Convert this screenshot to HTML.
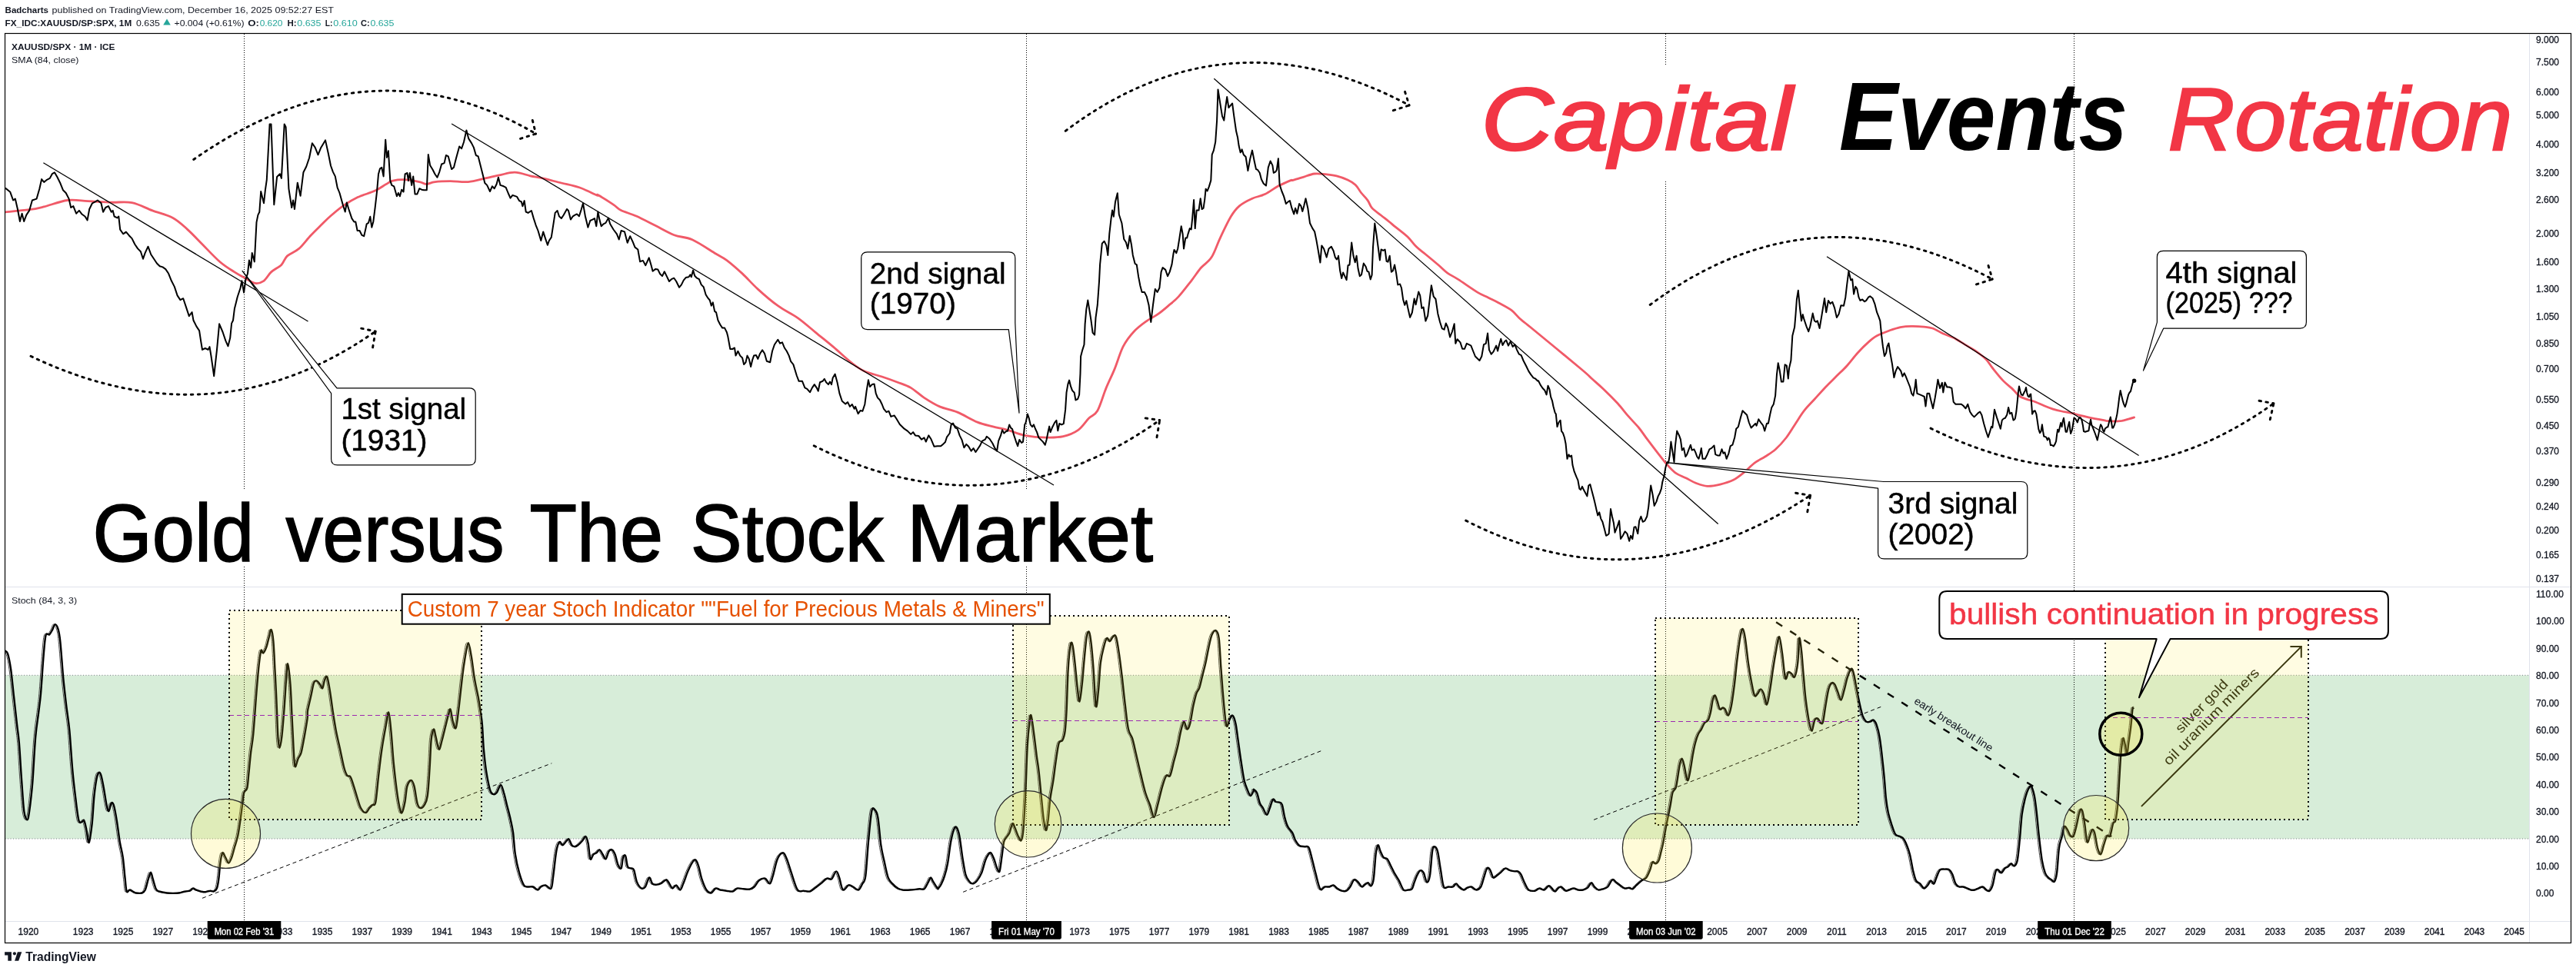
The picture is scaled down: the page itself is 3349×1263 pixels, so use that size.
<!DOCTYPE html><html><head><meta charset="utf-8"><style>html,body{margin:0;padding:0;background:#fff;}svg{display:block;font-family:"Liberation Sans", sans-serif;will-change:transform;}</style></head><body>
<svg width="3349" height="1263" viewBox="0 0 3349 1263">
<rect x="0" y="0" width="3349" height="1263" fill="#fff"/>
<defs><clipPath id="cp"><rect x="7" y="44" width="3281" height="719"/></clipPath><clipPath id="cs"><rect x="7" y="764" width="3281" height="434"/></clipPath></defs>
<text x="6.6" y="16.8" font-size="11.6" fill="#131722" font-weight="bold" font-style="normal" text-anchor="start" textLength="56.3" lengthAdjust="spacingAndGlyphs" >Badcharts</text>
<text x="67.5" y="16.8" font-size="11.6" fill="#131722" font-weight="normal" font-style="normal" text-anchor="start" textLength="366.5" lengthAdjust="spacingAndGlyphs" >published on TradingView.com, December 16, 2025 09:52:27 EST</text>
<text x="6.6" y="33.6" font-size="11.6" fill="#131722" font-weight="bold" font-style="normal" text-anchor="start" textLength="164.6" lengthAdjust="spacingAndGlyphs" >FX_IDC:XAUUSD/SP:SPX, 1M</text>
<text x="177.0" y="33.6" font-size="11.6" fill="#131722" font-weight="normal" font-style="normal" text-anchor="start" textLength="30.9" lengthAdjust="spacingAndGlyphs" >0.635</text>
<path d="M212.2,32.6 L217,24.6 L221.8,32.6 Z" fill="#26a69a"/>
<text x="226.5" y="33.6" font-size="11.6" fill="#131722" font-weight="normal" font-style="normal" text-anchor="start" textLength="91.0" lengthAdjust="spacingAndGlyphs" >+0.004 (+0.61%)</text>
<text x="322.2" y="33.6" font-size="11.6" fill="#131722" font-weight="bold" font-style="normal" text-anchor="start" textLength="14.7" lengthAdjust="spacingAndGlyphs" >O:</text>
<text x="337.7" y="33.6" font-size="11.6" fill="#26a69a" font-weight="normal" font-style="normal" text-anchor="start" textLength="29.8" lengthAdjust="spacingAndGlyphs" >0.620</text>
<text x="373.4" y="33.6" font-size="11.6" fill="#131722" font-weight="bold" font-style="normal" text-anchor="start" textLength="12.1" lengthAdjust="spacingAndGlyphs" >H:</text>
<text x="386.3" y="33.6" font-size="11.6" fill="#26a69a" font-weight="normal" font-style="normal" text-anchor="start" textLength="31.1" lengthAdjust="spacingAndGlyphs" >0.635</text>
<text x="422.7" y="33.6" font-size="11.6" fill="#131722" font-weight="bold" font-style="normal" text-anchor="start" textLength="9.7" lengthAdjust="spacingAndGlyphs" >L:</text>
<text x="433.2" y="33.6" font-size="11.6" fill="#26a69a" font-weight="normal" font-style="normal" text-anchor="start" textLength="31.6" lengthAdjust="spacingAndGlyphs" >0.610</text>
<text x="468.9" y="33.6" font-size="11.6" fill="#131722" font-weight="bold" font-style="normal" text-anchor="start" textLength="11.7" lengthAdjust="spacingAndGlyphs" >C:</text>
<text x="481.4" y="33.6" font-size="11.6" fill="#26a69a" font-weight="normal" font-style="normal" text-anchor="start" textLength="31.0" lengthAdjust="spacingAndGlyphs" >0.635</text>
<rect x="6.5" y="878.3" width="3282.0" height="212.70000000000005" fill="#d7edd9"/>
<line x1="6.5" y1="878.3" x2="3288.5" y2="878.3" stroke="#787b86" stroke-width="1" stroke-dasharray="1 2.5"/>
<line x1="6.5" y1="1091.0" x2="3288.5" y2="1091.0" stroke="#787b86" stroke-width="1" stroke-dasharray="1 2.5"/>
<line x1="3288.5" y1="43.5" x2="3288.5" y2="1226.5" stroke="#e0e3eb" stroke-width="1"/>
<line x1="6.5" y1="763.5" x2="3342.5" y2="763.5" stroke="#e0e3eb" stroke-width="1.2"/>
<line x1="6.5" y1="1198.5" x2="3342.5" y2="1198.5" stroke="#e0e3eb" stroke-width="1.2"/>
<line x1="317.5" y1="44" x2="317.5" y2="1198" stroke="#000" stroke-width="1" stroke-dasharray="1 2"/>
<line x1="1334.5" y1="44" x2="1334.5" y2="1198" stroke="#000" stroke-width="1" stroke-dasharray="1 2"/>
<line x1="2165.5" y1="44" x2="2165.5" y2="1198" stroke="#000" stroke-width="1" stroke-dasharray="1 2"/>
<line x1="2696.5" y1="44" x2="2696.5" y2="1198" stroke="#000" stroke-width="1" stroke-dasharray="1 2"/>
<g clip-path="url(#cs)">
<path d="M3.8,846.2 C4.5,846.9 6.5,846.2 7.8,850.2 C9.2,854.3 10.5,861.0 11.9,870.3 C13.2,879.7 14.5,894.4 15.9,906.5 C17.2,918.5 18.8,932.6 19.9,942.6 C21.0,952.7 21.7,954.7 22.7,966.7 C23.7,978.8 24.8,1000.2 25.9,1014.9 C27.0,1029.6 27.9,1046.5 29.1,1055.1 C30.3,1063.6 32.0,1066.3 33.1,1066.3 C34.3,1066.3 34.8,1063.0 36.0,1055.1 C37.1,1047.2 38.6,1035.0 40.0,1018.9 C41.3,1002.9 42.6,974.1 44.0,958.7 C45.3,943.3 46.9,935.9 48.0,926.5 C49.1,917.2 49.8,913.8 50.8,902.4 C51.8,891.1 53.0,870.9 54.0,858.3 C55.1,845.7 55.9,832.4 57.2,826.9 C58.6,821.5 60.6,826.7 62.1,825.3 C63.5,824.0 64.9,821.1 66.1,818.9 C67.3,816.7 68.1,812.2 69.3,812.1 C70.5,812.0 72.2,814.4 73.3,818.1 C74.4,821.8 75.0,823.5 76.1,834.2 C77.3,844.9 78.8,868.3 80.1,882.4 C81.5,896.4 82.8,907.1 84.1,918.5 C85.5,929.9 86.8,936.6 88.2,950.6 C89.5,964.7 90.8,988.1 92.2,1002.9 C93.5,1017.6 94.9,1028.3 96.2,1039.0 C97.5,1049.7 98.9,1062.1 100.2,1067.1 C101.5,1072.1 103.1,1069.1 104.2,1069.1 C105.4,1069.1 106.0,1065.4 107.0,1067.1 C108.0,1068.8 109.2,1074.3 110.2,1079.2 C111.3,1084.0 112.3,1097.4 113.5,1096.0 C114.7,1094.7 116.3,1081.3 117.5,1071.1 C118.6,1061.0 119.2,1045.4 120.3,1035.0 C121.4,1024.6 123.0,1013.7 124.3,1008.9 C125.6,1004.1 127.0,1003.7 128.3,1006.1 C129.7,1008.4 131.0,1016.1 132.3,1022.9 C133.7,1029.8 135.2,1041.7 136.4,1047.0 C137.5,1052.4 138.2,1055.4 139.2,1055.1 C140.2,1054.7 141.3,1046.4 142.4,1045.0 C143.4,1043.7 144.4,1043.3 145.6,1047.0 C146.8,1050.7 148.3,1059.1 149.6,1067.1 C150.9,1075.1 152.3,1087.2 153.6,1095.2 C155.0,1103.3 156.5,1107.3 157.6,1115.3 C158.8,1123.3 159.6,1136.1 160.5,1143.4 C161.3,1150.8 161.5,1157.1 162.5,1159.5 C163.5,1161.8 165.1,1157.5 166.5,1157.5 C167.8,1157.5 169.2,1158.8 170.5,1159.5 C171.8,1160.1 172.5,1161.2 174.5,1161.5 C176.5,1161.8 180.5,1162.2 182.5,1161.5 C184.5,1160.8 185.2,1160.5 186.6,1157.5 C187.9,1154.5 189.4,1147.2 190.6,1143.4 C191.8,1139.6 192.8,1134.6 193.8,1134.6 C194.8,1134.6 195.5,1139.8 196.6,1143.4 C197.7,1147.0 199.3,1153.6 200.6,1156.3 C201.9,1158.9 202.3,1158.6 204.6,1159.5 C207.0,1160.3 211.7,1161.1 214.7,1161.5 C217.7,1161.9 220.0,1161.9 222.7,1161.9 C225.4,1161.9 228.1,1161.9 230.7,1161.5 C233.4,1161.1 236.4,1159.9 238.8,1159.5 C241.1,1159.0 243.1,1159.3 244.8,1158.7 C246.5,1158.0 247.5,1155.7 248.8,1155.5 C250.1,1155.3 251.1,1156.8 252.8,1157.5 C254.5,1158.1 256.8,1159.0 258.8,1159.5 C260.9,1159.9 262.9,1160.4 264.9,1160.3 C266.9,1160.1 269.1,1158.8 270.9,1158.7 C272.7,1158.5 274.2,1160.0 275.7,1159.5 C277.2,1158.9 278.7,1158.1 279.7,1155.5 C280.8,1152.8 281.4,1148.8 282.1,1143.4 C282.9,1138.1 283.3,1129.0 284.1,1123.3 C284.9,1117.6 285.8,1110.6 287.0,1109.3 C288.1,1107.9 289.6,1113.1 291.0,1115.3 C292.3,1117.5 293.7,1122.5 295.0,1122.5 C296.3,1122.5 297.7,1118.8 299.0,1115.3 C300.3,1111.8 301.7,1105.9 303.0,1101.2 C304.4,1096.6 305.8,1092.9 307.0,1087.2 C308.2,1081.5 309.2,1074.1 310.2,1067.1 C311.3,1060.1 312.3,1051.0 313.1,1045.0 C313.9,1039.0 314.1,1034.3 315.1,1031.0 C316.1,1027.6 318.1,1029.0 319.1,1024.9 C320.1,1020.9 320.3,1014.6 321.1,1006.9 C321.9,999.2 322.9,987.5 323.9,978.8 C324.9,970.1 325.9,967.4 327.1,954.7 C328.3,941.9 329.9,917.2 331.1,902.4 C332.3,887.7 333.3,875.7 334.3,866.3 C335.4,856.9 336.2,849.0 337.2,846.2 C338.1,843.4 338.8,850.1 340.0,849.4 C341.1,848.8 342.8,845.4 344.0,842.2 C345.2,839.0 346.1,834.0 347.2,830.2 C348.3,826.3 349.4,818.2 350.4,818.9 C351.4,819.6 352.4,825.6 353.2,834.2 C354.0,842.7 354.6,857.6 355.2,870.3 C355.9,883.0 356.6,895.8 357.2,910.5 C357.9,925.2 358.6,948.3 359.2,958.7 C359.9,969.0 360.5,972.7 361.3,972.7 C362.1,972.7 363.1,967.0 364.1,958.7 C365.1,950.3 366.2,936.6 367.3,922.5 C368.3,908.5 369.7,884.0 370.5,874.3 C371.3,864.6 371.3,861.6 372.1,864.3 C372.9,867.0 374.4,879.4 375.3,890.4 C376.2,901.4 376.6,917.2 377.3,930.6 C378.0,943.9 378.7,959.7 379.3,970.7 C380.0,981.8 380.3,994.1 381.3,996.8 C382.3,999.5 384.0,989.8 385.4,986.8 C386.7,983.8 388.0,983.4 389.4,978.8 C390.7,974.1 392.0,966.0 393.4,958.7 C394.7,951.3 396.7,940.3 397.4,934.6 C398.1,928.9 397.1,929.2 397.8,924.5 C398.5,919.9 400.5,912.5 401.8,906.5 C403.2,900.4 404.5,891.9 405.8,888.4 C407.2,884.9 408.5,885.2 409.8,885.6 C411.2,885.9 412.7,888.8 413.9,890.4 C415.1,892.0 416.1,896.2 417.1,895.2 C418.1,894.2 418.9,886.9 419.9,884.4 C420.9,881.9 422.0,878.0 423.1,880.4 C424.2,882.7 425.4,890.7 426.7,898.4 C428.0,906.1 429.4,917.8 430.7,926.5 C432.1,935.2 433.2,942.6 434.7,950.6 C436.3,958.7 438.2,966.7 440.0,974.7 C441.7,982.8 443.7,993.1 445.2,998.8 C446.7,1004.5 447.9,1007.0 449.2,1008.9 C450.5,1010.7 451.9,1008.1 453.2,1010.1 C454.6,1012.1 455.8,1016.4 457.2,1020.9 C458.7,1025.4 460.5,1032.0 462.1,1037.0 C463.7,1042.0 465.0,1047.7 466.9,1051.0 C468.8,1054.4 471.4,1057.1 473.3,1057.1 C475.2,1057.1 476.6,1052.7 478.1,1051.0 C479.6,1049.4 480.8,1048.4 482.1,1047.0 C483.5,1045.7 484.8,1049.7 486.2,1043.0 C487.5,1036.3 488.8,1018.2 490.2,1006.9 C491.5,995.5 492.7,984.8 494.2,974.7 C495.7,964.7 497.5,954.7 499.0,946.6 C500.5,938.6 501.8,925.9 503.0,926.5 C504.2,927.2 505.2,939.9 506.2,950.6 C507.3,961.4 508.2,978.1 509.4,990.8 C510.7,1003.5 512.1,1016.9 513.5,1026.9 C514.8,1037.0 516.3,1046.0 517.5,1051.0 C518.6,1056.1 519.2,1058.4 520.3,1057.1 C521.4,1055.7 523.2,1048.7 524.3,1043.0 C525.4,1037.3 525.8,1027.6 527.1,1022.9 C528.5,1018.2 530.8,1014.9 532.3,1014.9 C533.9,1014.9 535.0,1017.9 536.4,1022.9 C537.7,1028.0 539.0,1040.3 540.4,1045.0 C541.7,1049.7 542.8,1050.7 544.4,1051.0 C545.9,1051.4 548.1,1049.7 549.6,1047.0 C551.1,1044.4 552.5,1043.0 553.6,1035.0 C554.8,1026.9 555.6,1010.9 556.4,998.8 C557.2,986.8 557.6,971.1 558.4,962.7 C559.3,954.3 560.7,949.3 561.7,948.6 C562.7,948.0 563.3,954.3 564.5,958.7 C565.6,963.0 567.1,974.1 568.5,974.7 C569.8,975.4 571.2,967.4 572.5,962.7 C573.8,958.0 575.2,952.0 576.5,946.6 C577.9,941.3 579.4,934.6 580.5,930.6 C581.7,926.5 582.3,921.2 583.3,922.5 C584.3,923.9 585.4,934.6 586.6,938.6 C587.8,942.6 589.2,950.0 590.6,946.6 C591.9,943.3 593.2,929.2 594.6,918.5 C595.9,907.8 597.3,893.1 598.6,882.4 C599.9,871.7 601.3,862.0 602.6,854.3 C604.0,846.6 605.3,836.2 606.6,836.2 C608.0,836.2 609.3,846.6 610.7,854.3 C612.0,862.0 613.2,873.7 614.7,882.4 C616.1,891.1 618.1,899.1 619.5,906.5 C620.8,913.8 621.8,920.5 622.7,926.5 C623.6,932.6 624.0,934.6 624.7,942.6 C625.4,950.6 625.8,964.7 626.7,974.7 C627.6,984.8 628.6,994.1 629.9,1002.9 C631.3,1011.6 633.3,1021.9 634.7,1026.9 C636.2,1032.0 637.3,1032.3 638.8,1033.0 C640.2,1033.6 641.9,1033.0 643.6,1031.0 C645.3,1029.0 647.3,1020.9 648.8,1020.9 C650.3,1020.9 651.5,1026.6 652.8,1031.0 C654.2,1035.3 655.5,1041.7 656.8,1047.0 C658.2,1052.4 659.5,1057.1 660.9,1063.1 C662.2,1069.1 663.7,1075.1 664.9,1083.2 C666.0,1091.2 666.3,1102.6 667.7,1111.3 C669.0,1120.0 671.0,1128.7 672.9,1135.4 C674.8,1142.1 676.9,1148.4 678.9,1151.4 C680.9,1154.5 682.9,1153.1 684.9,1153.5 C687.0,1153.8 689.0,1152.8 691.0,1153.5 C693.0,1154.1 695.3,1157.5 697.0,1157.5 C698.7,1157.5 699.3,1154.5 701.0,1153.5 C702.7,1152.4 704.8,1151.1 707.0,1151.4 C709.2,1151.8 712.6,1157.5 714.3,1155.5 C715.9,1153.5 715.9,1147.4 717.1,1139.4 C718.2,1131.4 719.8,1114.6 721.1,1107.3 C722.4,1099.9 723.8,1096.6 725.1,1095.2 C726.4,1093.9 727.8,1099.2 729.1,1099.2 C730.5,1099.2 731.8,1096.6 733.1,1095.2 C734.5,1093.9 735.8,1090.5 737.2,1091.2 C738.5,1091.9 739.8,1097.6 741.2,1099.2 C742.5,1100.9 743.9,1101.2 745.2,1101.2 C746.5,1101.2 747.5,1100.6 749.2,1099.2 C750.9,1097.9 753.6,1095.1 755.2,1093.2 C756.9,1091.3 758.0,1087.3 759.2,1088.0 C760.5,1088.7 761.5,1092.3 762.5,1097.2 C763.5,1102.1 764.1,1115.0 765.3,1117.3 C766.4,1119.7 767.9,1112.6 769.3,1111.3 C770.6,1109.9 772.0,1110.3 773.3,1109.3 C774.6,1108.3 776.0,1104.9 777.3,1105.3 C778.7,1105.6 780.0,1109.3 781.3,1111.3 C782.7,1113.3 784.0,1118.0 785.4,1117.3 C786.7,1116.6 788.0,1109.3 789.4,1107.3 C790.7,1105.3 792.0,1104.6 793.4,1105.3 C794.7,1105.9 796.1,1107.9 797.4,1111.3 C798.7,1114.6 800.1,1122.3 801.4,1125.3 C802.8,1128.4 804.4,1131.0 805.4,1129.4 C806.5,1127.7 806.9,1118.0 807.8,1115.3 C808.7,1112.6 810.0,1111.3 811.0,1113.3 C812.0,1115.3 812.7,1124.7 813.8,1127.3 C815.0,1130.0 816.5,1128.7 817.8,1129.4 C819.2,1130.0 820.5,1128.4 821.9,1131.4 C823.2,1134.4 824.2,1143.4 825.9,1147.4 C827.5,1151.4 830.1,1154.5 831.9,1155.5 C833.7,1156.5 835.0,1155.8 836.7,1153.5 C838.4,1151.1 840.4,1142.1 841.9,1141.4 C843.5,1140.7 844.3,1147.9 846.0,1149.4 C847.6,1151.0 850.0,1150.8 852.0,1150.6 C854.0,1150.5 856.0,1149.7 858.0,1148.6 C860.0,1147.6 862.4,1144.1 864.0,1144.2 C865.7,1144.4 866.7,1147.6 868.0,1149.4 C869.4,1151.3 870.6,1155.1 872.1,1155.5 C873.5,1155.8 875.2,1151.1 876.9,1151.4 C878.5,1151.8 880.6,1157.8 882.1,1157.5 C883.6,1157.1 884.4,1153.5 886.1,1149.4 C887.8,1145.4 890.1,1138.1 892.1,1133.4 C894.1,1128.7 896.5,1123.8 898.2,1121.3 C899.8,1118.8 900.8,1117.5 902.2,1118.5 C903.5,1119.5 904.9,1123.2 906.2,1127.3 C907.5,1131.5 908.5,1138.4 910.2,1143.4 C911.9,1148.4 914.2,1154.5 916.2,1157.5 C918.2,1160.5 920.2,1161.8 922.3,1161.5 C924.3,1161.2 926.3,1156.1 928.3,1155.5 C930.3,1154.8 932.0,1156.9 934.3,1157.5 C936.6,1158.0 939.7,1158.3 942.3,1158.7 C945.0,1159.0 948.0,1160.0 950.4,1159.5 C952.7,1158.9 954.1,1156.0 956.4,1155.5 C958.7,1154.9 961.7,1156.1 964.4,1156.3 C967.1,1156.5 970.1,1157.1 972.5,1156.7 C974.8,1156.2 976.5,1155.3 978.5,1153.5 C980.5,1151.6 982.2,1147.2 984.5,1145.4 C986.8,1143.6 990.2,1141.9 992.5,1142.6 C994.9,1143.3 996.9,1150.0 998.6,1149.4 C1000.2,1148.9 1000.9,1144.8 1002.6,1139.4 C1004.3,1134.0 1006.4,1122.3 1008.6,1117.3 C1010.8,1112.3 1013.8,1109.3 1015.8,1109.3 C1017.8,1109.3 1018.8,1113.0 1020.7,1117.3 C1022.5,1121.7 1024.3,1128.7 1026.7,1135.4 C1029.0,1142.1 1032.0,1153.6 1034.7,1157.5 C1037.4,1161.4 1040.1,1158.3 1042.7,1158.7 C1045.4,1159.0 1048.4,1160.0 1050.8,1159.5 C1053.1,1158.9 1054.5,1157.1 1056.8,1155.5 C1059.1,1153.8 1062.2,1151.6 1064.8,1149.4 C1067.5,1147.3 1070.5,1143.6 1072.9,1142.6 C1075.2,1141.6 1076.9,1145.0 1078.9,1143.4 C1080.9,1141.9 1083.2,1133.7 1084.9,1133.4 C1086.6,1133.0 1087.5,1137.4 1088.9,1141.4 C1090.4,1145.4 1091.7,1155.8 1093.7,1157.5 C1095.8,1159.1 1098.8,1152.1 1101.0,1151.4 C1103.2,1150.8 1104.9,1152.4 1107.0,1153.5 C1109.1,1154.5 1111.8,1158.1 1113.8,1157.5 C1115.8,1156.8 1117.5,1152.4 1119.0,1149.4 C1120.6,1146.4 1121.7,1149.1 1123.1,1139.4 C1124.4,1129.7 1125.7,1105.3 1127.1,1091.2 C1128.4,1077.1 1129.8,1061.4 1131.1,1055.1 C1132.4,1048.7 1133.8,1051.7 1135.1,1053.1 C1136.4,1054.4 1137.8,1055.4 1139.1,1063.1 C1140.5,1070.8 1141.8,1089.9 1143.1,1099.2 C1144.5,1108.6 1145.6,1112.3 1147.2,1119.3 C1148.7,1126.3 1150.6,1136.4 1152.4,1141.4 C1154.2,1146.4 1155.9,1147.1 1158.0,1149.4 C1160.1,1151.8 1163.0,1154.1 1165.2,1155.5 C1167.4,1156.8 1168.6,1157.1 1171.3,1157.5 C1173.9,1157.8 1177.6,1157.7 1181.3,1157.5 C1185.0,1157.3 1190.3,1156.5 1193.3,1156.3 C1196.4,1156.1 1197.5,1157.7 1199.4,1156.3 C1201.2,1154.8 1203.2,1149.9 1204.6,1147.4 C1206.0,1145.0 1206.7,1141.4 1207.8,1141.4 C1208.9,1141.4 1209.9,1145.1 1211.4,1147.4 C1212.9,1149.8 1215.6,1154.1 1216.6,1155.5 C1217.7,1156.8 1216.9,1156.5 1217.8,1155.5 C1218.7,1154.5 1220.5,1152.1 1221.8,1149.4 C1223.2,1146.8 1224.5,1143.7 1225.8,1139.4 C1227.2,1135.0 1228.5,1130.7 1229.8,1123.3 C1231.2,1116.0 1232.5,1102.6 1233.9,1095.2 C1235.2,1087.9 1236.7,1082.4 1237.9,1079.2 C1239.1,1075.9 1239.9,1074.6 1241.1,1075.9 C1242.3,1077.3 1243.8,1080.6 1245.1,1087.2 C1246.4,1093.7 1247.8,1106.9 1249.1,1115.3 C1250.5,1123.7 1251.8,1132.4 1253.1,1137.4 C1254.5,1142.4 1255.7,1143.4 1257.2,1145.4 C1258.6,1147.4 1260.2,1149.4 1262.0,1149.4 C1263.8,1149.4 1266.0,1147.8 1268.0,1145.4 C1270.0,1143.1 1272.2,1139.7 1274.0,1135.4 C1275.8,1131.0 1277.4,1123.3 1278.8,1119.3 C1280.3,1115.3 1281.7,1113.0 1282.9,1111.3 C1284.1,1109.6 1284.9,1108.3 1286.1,1109.3 C1287.3,1110.3 1288.8,1114.0 1290.1,1117.3 C1291.4,1120.7 1292.9,1126.7 1294.1,1129.4 C1295.3,1132.0 1296.3,1135.7 1297.3,1133.4 C1298.3,1131.0 1299.2,1121.7 1300.1,1115.3 C1301.1,1108.9 1301.9,1099.6 1302.9,1095.2 C1303.9,1090.9 1304.9,1091.2 1306.2,1089.2 C1307.4,1087.2 1308.8,1086.2 1310.2,1083.2 C1311.5,1080.2 1313.0,1072.1 1314.2,1071.1 C1315.4,1070.1 1316.2,1074.5 1317.4,1077.1 C1318.6,1079.8 1320.1,1084.5 1321.4,1087.2 C1322.8,1089.9 1324.3,1094.6 1325.4,1093.2 C1326.6,1091.9 1327.3,1089.5 1328.2,1079.2 C1329.2,1068.8 1330.2,1049.0 1331.1,1031.0 C1331.9,1012.9 1332.6,986.1 1333.5,970.7 C1334.3,955.3 1335.5,945.3 1336.3,938.6 C1337.1,931.9 1337.4,928.6 1338.3,930.6 C1339.2,932.6 1340.3,941.9 1341.5,950.6 C1342.7,959.3 1344.4,974.1 1345.5,982.8 C1346.6,991.5 1347.4,994.8 1348.3,1002.9 C1349.3,1010.9 1350.1,1020.9 1351.1,1031.0 C1352.1,1041.0 1353.3,1054.9 1354.3,1063.1 C1355.4,1071.3 1356.6,1079.3 1357.6,1080.0 C1358.6,1080.6 1359.4,1073.9 1360.4,1067.1 C1361.3,1060.3 1362.0,1047.7 1363.2,1039.0 C1364.3,1030.3 1366.0,1022.9 1367.2,1014.9 C1368.4,1006.9 1369.2,998.8 1370.4,990.8 C1371.6,982.8 1373.0,971.4 1374.4,966.7 C1375.9,962.0 1377.9,965.4 1379.2,962.7 C1380.6,960.0 1381.6,957.3 1382.5,950.6 C1383.3,943.9 1383.8,935.9 1384.5,922.5 C1385.1,909.1 1385.6,884.4 1386.5,870.3 C1387.3,856.3 1388.7,843.2 1389.7,838.2 C1390.7,833.2 1391.6,836.2 1392.5,840.2 C1393.4,844.2 1394.3,853.3 1395.3,862.3 C1396.3,871.3 1397.5,886.1 1398.5,894.4 C1399.5,902.8 1400.3,913.2 1401.3,912.5 C1402.3,911.8 1403.5,899.4 1404.5,890.4 C1405.6,881.4 1406.4,868.6 1407.4,858.3 C1408.4,847.9 1409.5,834.2 1410.6,828.2 C1411.6,822.1 1412.8,820.5 1413.8,822.1 C1414.8,823.8 1415.7,830.2 1416.6,838.2 C1417.5,846.2 1418.4,856.9 1419.4,870.3 C1420.4,883.7 1421.5,913.8 1422.6,918.5 C1423.7,923.2 1424.8,907.8 1425.8,898.4 C1426.8,889.1 1427.5,871.7 1428.6,862.3 C1429.8,852.9 1431.3,847.6 1432.7,842.2 C1434.0,836.9 1435.3,831.5 1436.7,830.2 C1438.0,828.8 1439.4,834.5 1440.7,834.2 C1442.0,833.8 1443.4,829.2 1444.7,828.2 C1446.0,827.1 1447.4,824.5 1448.7,828.2 C1450.1,831.8 1451.4,841.2 1452.7,850.2 C1454.1,859.3 1455.4,871.0 1456.8,882.4 C1458.1,893.7 1459.4,907.5 1460.8,918.5 C1462.1,929.6 1463.2,941.6 1464.8,948.6 C1466.3,955.7 1468.3,955.3 1470.0,960.7 C1471.7,966.0 1473.0,973.1 1474.8,980.8 C1476.6,988.5 1478.8,998.5 1480.9,1006.9 C1482.9,1015.2 1484.9,1024.3 1486.9,1031.0 C1488.9,1037.7 1491.0,1041.7 1492.9,1047.0 C1494.8,1052.4 1496.4,1063.1 1498.1,1063.1 C1499.8,1063.1 1501.1,1053.7 1502.9,1047.0 C1504.7,1040.3 1507.1,1029.3 1509.0,1022.9 C1510.8,1016.6 1512.5,1011.2 1514.2,1008.9 C1515.9,1006.5 1517.4,1011.9 1519.0,1008.9 C1520.6,1005.9 1522.2,997.2 1523.8,990.8 C1525.5,984.4 1527.5,977.4 1529.0,970.7 C1530.6,964.0 1531.7,956.0 1533.1,950.6 C1534.4,945.3 1535.7,938.9 1537.1,938.6 C1538.4,938.3 1539.8,948.3 1541.1,948.6 C1542.4,949.0 1543.8,945.6 1545.1,940.6 C1546.4,935.6 1547.8,924.9 1549.1,918.5 C1550.5,912.2 1551.8,906.5 1553.1,902.4 C1554.5,898.4 1555.8,898.4 1557.2,894.4 C1558.5,890.4 1559.8,883.7 1561.2,878.4 C1562.5,873.0 1563.9,868.3 1565.2,862.3 C1566.5,856.3 1567.9,848.2 1569.2,842.2 C1570.5,836.2 1571.7,829.8 1573.2,826.1 C1574.8,822.5 1576.9,819.5 1578.4,820.1 C1580.0,820.8 1581.3,821.8 1582.5,830.2 C1583.6,838.5 1584.3,857.6 1585.3,870.3 C1586.2,883.0 1587.1,895.1 1588.1,906.5 C1589.1,917.8 1590.4,932.2 1591.3,938.6 C1592.2,945.0 1592.5,945.0 1593.3,944.6 C1594.1,944.3 1595.0,938.9 1596.1,936.6 C1597.3,934.2 1598.8,929.9 1600.1,930.6 C1601.5,931.2 1602.9,935.2 1604.1,940.6 C1605.4,946.0 1606.2,954.3 1607.4,962.7 C1608.6,971.1 1610.0,982.1 1611.4,990.8 C1612.7,999.5 1614.1,1008.9 1615.4,1014.9 C1616.7,1020.9 1618.1,1023.6 1619.4,1026.9 C1620.7,1030.3 1622.1,1034.6 1623.4,1035.0 C1624.8,1035.3 1626.7,1030.3 1627.4,1029.0 C1628.2,1027.6 1627.1,1026.6 1627.8,1026.9 C1628.5,1027.3 1630.5,1028.0 1631.8,1031.0 C1633.2,1034.0 1634.5,1041.7 1635.8,1045.0 C1637.2,1048.4 1638.4,1048.6 1639.8,1051.0 C1641.3,1053.5 1643.2,1059.9 1644.7,1059.9 C1646.1,1059.9 1647.3,1054.4 1648.7,1051.0 C1650.0,1047.7 1651.4,1041.1 1652.7,1039.8 C1654.0,1038.5 1655.2,1042.3 1656.7,1043.0 C1658.3,1043.7 1660.6,1043.1 1661.9,1043.8 C1663.3,1044.5 1663.7,1043.8 1664.7,1047.0 C1665.8,1050.2 1666.8,1058.4 1668.0,1063.1 C1669.2,1067.8 1670.3,1071.8 1672.0,1075.1 C1673.7,1078.5 1676.3,1080.2 1678.0,1083.2 C1679.7,1086.2 1680.5,1090.4 1682.0,1093.2 C1683.6,1096.0 1685.2,1098.7 1687.2,1100.0 C1689.2,1101.4 1692.1,1100.8 1694.1,1101.2 C1696.1,1101.6 1697.6,1099.4 1699.3,1102.4 C1701.0,1105.5 1702.6,1113.8 1704.1,1119.3 C1705.6,1124.8 1706.4,1129.2 1708.1,1135.4 C1709.8,1141.5 1712.1,1153.3 1714.1,1156.3 C1716.2,1159.3 1718.2,1153.9 1720.2,1153.5 C1722.2,1153.0 1724.3,1153.8 1726.2,1153.5 C1728.1,1153.1 1729.7,1151.1 1731.4,1151.4 C1733.1,1151.8 1734.4,1154.3 1736.2,1155.5 C1738.0,1156.7 1740.2,1158.1 1742.3,1158.7 C1744.3,1159.2 1746.5,1159.5 1748.3,1158.7 C1750.1,1157.8 1751.4,1155.9 1753.1,1153.5 C1754.8,1151.0 1756.6,1145.2 1758.3,1144.2 C1760.1,1143.2 1761.9,1145.9 1763.5,1147.4 C1765.2,1149.0 1766.9,1152.9 1768.4,1153.5 C1769.8,1154.0 1771.0,1151.5 1772.4,1150.6 C1773.7,1149.8 1775.1,1148.0 1776.4,1148.2 C1777.7,1148.5 1779.2,1153.1 1780.4,1152.2 C1781.6,1151.4 1782.6,1150.2 1783.6,1143.4 C1784.6,1136.6 1785.5,1118.6 1786.4,1111.3 C1787.4,1103.9 1788.2,1099.9 1789.2,1099.2 C1790.2,1098.6 1791.3,1104.6 1792.5,1107.3 C1793.7,1109.9 1795.0,1113.6 1796.5,1115.3 C1797.9,1117.0 1799.6,1115.3 1801.3,1117.3 C1803.0,1119.3 1805.0,1124.3 1806.5,1127.3 C1808.1,1130.4 1808.9,1132.4 1810.5,1135.4 C1812.2,1138.4 1814.5,1141.7 1816.6,1145.4 C1818.6,1149.1 1820.6,1155.5 1822.6,1157.5 C1824.6,1159.5 1826.8,1157.7 1828.6,1157.5 C1830.4,1157.3 1832.1,1157.9 1833.4,1156.3 C1834.8,1154.6 1835.4,1150.6 1836.6,1147.4 C1837.8,1144.3 1839.3,1139.9 1840.7,1137.4 C1842.0,1134.8 1843.3,1132.5 1844.7,1132.2 C1846.0,1131.8 1847.3,1132.8 1848.7,1135.4 C1850.0,1137.9 1851.4,1146.8 1852.7,1147.4 C1854.0,1148.1 1855.5,1146.1 1856.7,1139.4 C1857.9,1132.7 1858.9,1113.6 1859.9,1107.3 C1860.9,1100.9 1861.6,1101.2 1862.7,1101.2 C1863.9,1101.2 1865.4,1102.2 1866.8,1107.3 C1868.1,1112.3 1869.4,1123.7 1870.8,1131.4 C1872.1,1139.1 1873.1,1149.8 1874.8,1153.5 C1876.5,1157.1 1878.8,1153.5 1880.8,1153.5 C1882.8,1153.5 1885.2,1154.1 1886.8,1153.5 C1888.5,1152.8 1889.5,1149.4 1890.9,1149.4 C1892.2,1149.4 1893.2,1152.1 1894.9,1153.5 C1896.5,1154.8 1899.1,1157.3 1900.9,1157.5 C1902.7,1157.7 1904.0,1155.3 1905.7,1154.7 C1907.4,1154.0 1909.1,1153.0 1910.9,1153.5 C1912.8,1153.9 1914.9,1157.5 1917.0,1157.5 C1919.0,1157.5 1921.3,1156.1 1923.0,1153.5 C1924.7,1150.8 1925.7,1145.4 1927.0,1141.4 C1928.3,1137.4 1929.7,1131.0 1931.0,1129.4 C1932.4,1127.7 1933.7,1129.4 1935.0,1131.4 C1936.4,1133.4 1937.7,1140.1 1939.0,1141.4 C1940.4,1142.7 1941.4,1140.5 1943.1,1139.4 C1944.7,1138.3 1947.1,1136.3 1949.1,1134.6 C1951.1,1132.9 1953.1,1129.8 1955.1,1129.4 C1957.1,1129.0 1959.1,1131.5 1961.1,1132.2 C1963.1,1132.8 1965.5,1133.2 1967.2,1133.4 C1968.8,1133.6 1969.8,1132.7 1971.2,1133.4 C1972.5,1134.0 1973.7,1134.7 1975.2,1137.4 C1976.7,1140.1 1978.7,1146.1 1980.4,1149.4 C1982.1,1152.8 1983.1,1155.9 1985.2,1157.5 C1987.4,1159.0 1990.9,1159.0 1993.3,1158.7 C1995.6,1158.3 1997.3,1155.7 1999.3,1155.5 C2001.3,1155.3 2003.3,1158.0 2005.3,1157.5 C2007.3,1156.9 2009.7,1152.6 2011.3,1152.2 C2013.0,1151.9 2014.0,1154.3 2015.4,1155.5 C2016.7,1156.7 2018.0,1159.5 2019.4,1159.5 C2020.7,1159.5 2022.0,1156.5 2023.4,1155.5 C2024.7,1154.5 2025.7,1152.9 2027.4,1153.5 C2029.1,1154.0 2031.7,1158.0 2033.4,1158.7 C2035.2,1159.3 2036.1,1158.0 2037.8,1157.5 C2039.5,1156.9 2041.8,1155.5 2043.8,1155.5 C2045.8,1155.5 2047.8,1157.1 2049.8,1157.5 C2051.9,1157.8 2053.9,1157.9 2055.9,1157.5 C2057.9,1157.0 2060.1,1156.2 2061.9,1154.7 C2063.7,1153.1 2065.2,1148.4 2066.7,1148.2 C2068.2,1148.0 2069.2,1151.9 2070.7,1153.5 C2072.3,1155.0 2074.1,1157.0 2076.0,1157.5 C2077.8,1157.9 2080.0,1156.9 2082.0,1156.3 C2084.0,1155.6 2086.0,1155.5 2088.0,1153.5 C2090.0,1151.4 2092.2,1145.2 2094.0,1144.2 C2095.8,1143.2 2097.2,1146.2 2098.8,1147.4 C2100.5,1148.6 2102.2,1150.1 2104.1,1151.4 C2105.9,1152.8 2108.1,1154.9 2110.1,1155.5 C2112.1,1156.0 2114.4,1154.5 2116.1,1154.7 C2117.8,1154.8 2118.6,1156.8 2120.1,1156.3 C2121.7,1155.7 2123.3,1153.3 2125.4,1151.4 C2127.4,1149.6 2130.0,1147.1 2132.2,1145.4 C2134.3,1143.7 2136.4,1143.7 2138.2,1141.4 C2140.0,1139.1 2141.7,1134.7 2143.0,1131.4 C2144.4,1128.0 2145.0,1122.7 2146.2,1121.3 C2147.4,1120.0 2148.9,1123.7 2150.2,1123.3 C2151.6,1123.0 2153.1,1122.0 2154.3,1119.3 C2155.5,1116.6 2156.5,1111.3 2157.5,1107.3 C2158.5,1103.3 2159.4,1099.9 2160.3,1095.2 C2161.2,1090.5 2162.1,1084.5 2163.1,1079.2 C2164.1,1073.8 2165.2,1068.4 2166.3,1063.1 C2167.4,1057.7 2168.5,1052.4 2169.5,1047.0 C2170.5,1041.7 2171.2,1034.6 2172.3,1031.0 C2173.5,1027.3 2175.4,1027.6 2176.4,1024.9 C2177.4,1022.3 2177.5,1019.9 2178.4,1014.9 C2179.2,1009.9 2180.6,999.5 2181.6,994.8 C2182.6,990.1 2183.4,986.8 2184.4,986.8 C2185.3,986.8 2186.2,990.8 2187.2,994.8 C2188.2,998.8 2189.5,1007.5 2190.4,1010.9 C2191.3,1014.2 2191.6,1016.2 2192.4,1014.9 C2193.2,1013.6 2194.2,1008.2 2195.2,1002.9 C2196.2,997.5 2197.4,988.8 2198.4,982.8 C2199.5,976.7 2200.5,971.4 2201.7,966.7 C2202.9,962.0 2204.3,957.7 2205.7,954.7 C2207.0,951.6 2208.3,951.0 2209.7,948.6 C2211.0,946.3 2212.2,942.6 2213.7,940.6 C2215.2,938.6 2217.2,938.9 2218.5,936.6 C2219.9,934.2 2220.7,930.9 2221.7,926.5 C2222.7,922.2 2223.6,914.2 2224.5,910.5 C2225.5,906.8 2226.4,904.1 2227.4,904.5 C2228.4,904.8 2229.5,909.5 2230.6,912.5 C2231.6,915.5 2232.6,921.2 2233.8,922.5 C2235.0,923.9 2236.7,920.5 2237.8,920.5 C2238.9,920.5 2239.5,920.9 2240.6,922.5 C2241.7,924.2 2243.3,931.2 2244.6,930.6 C2246.0,929.9 2247.3,925.2 2248.6,918.5 C2250.0,911.8 2251.3,901.1 2252.7,890.4 C2254.0,879.7 2255.3,865.0 2256.7,854.3 C2258.0,843.5 2259.6,832.2 2260.7,826.1 C2261.8,820.1 2262.5,817.4 2263.5,818.1 C2264.5,818.8 2265.5,822.8 2266.7,830.2 C2267.9,837.5 2269.4,852.9 2270.7,862.3 C2272.1,871.7 2273.4,879.4 2274.7,886.4 C2276.1,893.4 2277.4,901.8 2278.8,904.5 C2280.1,907.1 2281.4,903.8 2282.8,902.4 C2284.1,901.1 2285.5,896.4 2286.8,896.4 C2288.1,896.4 2289.5,899.1 2290.8,902.4 C2292.2,905.8 2293.5,917.2 2294.8,916.5 C2296.2,915.8 2297.5,906.1 2298.8,898.4 C2300.2,890.7 2301.5,879.0 2302.9,870.3 C2304.2,861.6 2305.5,853.3 2306.9,846.2 C2308.2,839.2 2309.6,827.5 2310.9,828.2 C2312.2,828.8 2313.6,841.2 2314.9,850.2 C2316.2,859.3 2317.6,878.4 2318.9,882.4 C2320.3,886.4 2321.6,875.3 2322.9,874.3 C2324.3,873.3 2325.6,875.3 2327.0,876.3 C2328.3,877.3 2329.6,882.7 2331.0,880.4 C2332.3,878.0 2334.0,870.7 2335.0,862.3 C2336.0,853.9 2336.2,832.8 2337.0,830.2 C2337.8,827.5 2338.9,838.9 2339.8,846.2 C2340.7,853.6 2341.3,864.3 2342.2,874.3 C2343.1,884.4 2343.9,896.4 2345.0,906.5 C2346.2,916.5 2347.7,927.2 2349.0,934.6 C2350.4,941.9 2351.7,950.3 2353.1,950.6 C2354.4,951.0 2355.7,939.3 2357.1,936.6 C2358.4,933.9 2359.8,933.9 2361.1,934.6 C2362.4,935.2 2364.0,939.9 2365.1,940.6 C2366.2,941.3 2366.9,942.3 2367.9,938.6 C2368.9,934.9 2369.9,925.5 2371.1,918.5 C2372.3,911.5 2373.8,901.4 2375.1,896.4 C2376.5,891.4 2377.8,889.4 2379.2,888.4 C2380.5,887.4 2381.8,888.4 2383.2,890.4 C2384.5,892.4 2385.9,897.1 2387.2,900.4 C2388.5,903.8 2389.9,910.8 2391.2,910.5 C2392.6,910.1 2393.9,903.1 2395.2,898.4 C2396.6,893.7 2397.8,887.1 2399.2,882.4 C2400.7,877.7 2402.7,871.7 2404.1,870.3 C2405.4,869.0 2406.1,870.3 2407.3,874.3 C2408.5,878.4 2410.0,887.7 2411.3,894.4 C2412.6,901.1 2414.0,908.5 2415.3,914.5 C2416.6,920.5 2417.9,926.5 2419.3,930.6 C2420.8,934.6 2422.5,937.3 2424.1,938.6 C2425.8,939.9 2427.8,938.9 2429.4,938.6 C2430.9,938.3 2432.0,935.9 2433.4,936.6 C2434.7,937.3 2436.1,938.9 2437.4,942.6 C2438.7,946.3 2440.1,950.6 2441.4,958.7 C2442.8,966.7 2444.4,981.4 2445.4,990.8 C2446.5,1000.2 2447.1,1006.9 2447.8,1014.9 C2448.5,1022.9 2449.0,1032.0 2449.8,1039.0 C2450.6,1046.0 2451.5,1051.7 2452.6,1057.1 C2453.8,1062.4 2455.1,1066.4 2456.6,1071.1 C2458.2,1075.8 2460.0,1082.4 2461.9,1085.2 C2463.7,1088.0 2466.1,1087.0 2467.9,1088.0 C2469.7,1089.0 2471.2,1089.3 2472.7,1091.2 C2474.2,1093.1 2475.4,1095.9 2476.7,1099.2 C2478.1,1102.6 2479.4,1105.9 2480.7,1111.3 C2482.1,1116.6 2483.4,1125.7 2484.7,1131.4 C2486.1,1137.1 2487.2,1142.4 2488.8,1145.4 C2490.3,1148.4 2492.2,1147.8 2494.0,1149.4 C2495.7,1151.1 2497.5,1155.1 2499.2,1155.5 C2500.9,1155.8 2502.6,1153.1 2504.0,1151.4 C2505.5,1149.8 2506.7,1145.8 2508.0,1145.4 C2509.4,1145.1 2510.7,1150.4 2512.1,1149.4 C2513.4,1148.4 2514.7,1142.4 2516.1,1139.4 C2517.4,1136.4 2518.4,1132.8 2520.1,1131.4 C2521.8,1129.9 2524.1,1130.6 2526.1,1130.6 C2528.1,1130.6 2530.5,1130.2 2532.1,1131.4 C2533.8,1132.5 2534.8,1134.4 2536.2,1137.4 C2537.5,1140.4 2538.7,1146.8 2540.2,1149.4 C2541.6,1152.1 2543.3,1152.8 2545.0,1153.5 C2546.7,1154.1 2548.5,1153.1 2550.2,1153.5 C2551.9,1153.8 2553.8,1154.8 2555.4,1155.5 C2557.1,1156.1 2558.6,1157.1 2560.2,1157.5 C2561.9,1157.8 2563.4,1157.8 2565.1,1157.5 C2566.7,1157.1 2568.5,1156.1 2570.3,1155.5 C2572.0,1154.8 2573.8,1153.1 2575.5,1153.5 C2577.2,1153.8 2578.9,1156.6 2580.3,1157.5 C2581.8,1158.3 2583.0,1159.7 2584.3,1158.7 C2585.7,1157.7 2587.0,1155.7 2588.4,1151.4 C2589.7,1147.2 2591.2,1136.7 2592.4,1133.4 C2593.6,1130.0 2594.4,1131.0 2595.6,1131.4 C2596.8,1131.7 2598.1,1135.7 2599.6,1135.4 C2601.1,1135.0 2603.0,1130.7 2604.4,1129.4 C2605.9,1128.0 2607.1,1128.4 2608.4,1127.3 C2609.8,1126.3 2611.1,1123.5 2612.5,1123.3 C2613.8,1123.2 2615.1,1127.2 2616.5,1126.5 C2617.8,1125.9 2619.3,1125.2 2620.5,1119.3 C2621.7,1113.4 2622.7,1101.2 2623.7,1091.2 C2624.7,1081.2 2625.4,1067.8 2626.5,1059.1 C2627.7,1050.4 2629.2,1044.4 2630.5,1039.0 C2631.9,1033.6 2633.2,1029.6 2634.5,1026.9 C2635.9,1024.3 2637.2,1021.6 2638.6,1022.9 C2639.9,1024.3 2641.4,1029.6 2642.6,1035.0 C2643.7,1040.3 2644.4,1046.4 2645.4,1055.1 C2646.4,1063.8 2647.4,1076.5 2648.6,1087.2 C2649.8,1097.9 2651.3,1111.3 2652.6,1119.3 C2654.0,1127.3 2655.3,1131.7 2656.6,1135.4 C2658.0,1139.1 2659.3,1139.9 2660.7,1141.4 C2662.0,1142.9 2663.3,1143.3 2664.7,1144.2 C2666.0,1145.1 2667.5,1148.1 2668.7,1146.6 C2669.9,1145.2 2670.9,1142.6 2671.9,1135.4 C2672.9,1128.2 2673.6,1111.3 2674.7,1103.3 C2675.8,1095.2 2677.6,1091.9 2678.7,1087.2 C2679.9,1082.5 2680.4,1076.5 2681.5,1075.1 C2682.7,1073.8 2684.2,1077.1 2685.6,1079.2 C2686.9,1081.2 2688.2,1085.9 2689.6,1087.2 C2690.9,1088.5 2692.2,1089.5 2693.6,1087.2 C2694.9,1084.8 2696.3,1078.5 2697.6,1073.1 C2698.9,1067.8 2700.4,1058.2 2701.6,1055.1 C2702.8,1051.9 2703.8,1051.6 2704.8,1054.3 C2705.9,1056.9 2707.0,1064.3 2708.0,1071.1 C2709.1,1078.0 2710.1,1092.5 2711.3,1095.2 C2712.4,1097.9 2713.8,1089.9 2714.9,1087.2 C2715.9,1084.5 2716.7,1079.8 2717.7,1079.2 C2718.7,1078.5 2719.7,1079.2 2720.9,1083.2 C2722.1,1087.2 2723.6,1098.6 2724.9,1103.3 C2726.2,1107.9 2727.6,1112.0 2728.9,1111.3 C2730.3,1110.6 2731.6,1103.3 2732.9,1099.2 C2734.3,1095.2 2735.6,1089.2 2737.0,1087.2 C2738.3,1085.2 2739.6,1089.9 2741.0,1087.2 C2742.3,1084.5 2743.8,1074.5 2745.0,1071.1 C2746.2,1067.8 2747.2,1071.1 2748.2,1067.1 C2749.2,1063.1 2750.2,1055.7 2751.0,1047.0 C2751.8,1038.3 2752.4,1025.6 2753.0,1014.9 C2753.7,1004.2 2754.2,991.8 2755.0,982.8 C2755.8,973.7 2757.0,963.4 2757.8,960.7 C2758.7,958.0 2759.4,963.4 2760.2,966.7 C2761.1,970.1 2762.3,980.8 2763.1,980.8 C2763.9,980.8 2764.3,972.4 2765.1,966.7 C2765.9,961.0 2767.0,954.0 2767.9,946.6 C2768.8,939.3 2769.6,926.9 2770.3,922.5 C2771.0,918.2 2771.6,920.9 2771.9,920.5" fill="none" stroke="#4a4a4a" stroke-width="1" stroke-linejoin="round"/>
<path d="M6.0,846.2 C6.7,846.9 8.7,846.2 10.0,850.2 C11.4,854.3 12.7,861.0 14.1,870.3 C15.4,879.7 16.7,894.4 18.1,906.5 C19.4,918.5 21.0,932.6 22.1,942.6 C23.2,952.7 23.9,954.7 24.9,966.7 C25.9,978.8 27.0,1000.2 28.1,1014.9 C29.2,1029.6 30.1,1046.5 31.3,1055.1 C32.5,1063.6 34.2,1066.3 35.3,1066.3 C36.5,1066.3 37.0,1063.0 38.2,1055.1 C39.3,1047.2 40.8,1035.0 42.2,1018.9 C43.5,1002.9 44.8,974.1 46.2,958.7 C47.5,943.3 49.1,935.9 50.2,926.5 C51.3,917.2 52.0,913.8 53.0,902.4 C54.0,891.1 55.2,870.9 56.2,858.3 C57.3,845.7 58.1,832.4 59.4,826.9 C60.8,821.5 62.8,826.7 64.3,825.3 C65.7,824.0 67.1,821.1 68.3,818.9 C69.5,816.7 70.3,812.2 71.5,812.1 C72.7,812.0 74.4,814.4 75.5,818.1 C76.6,821.8 77.2,823.5 78.3,834.2 C79.5,844.9 81.0,868.3 82.3,882.4 C83.7,896.4 85.0,907.1 86.3,918.5 C87.7,929.9 89.0,936.6 90.4,950.6 C91.7,964.7 93.0,988.1 94.4,1002.9 C95.7,1017.6 97.1,1028.3 98.4,1039.0 C99.7,1049.7 101.1,1062.1 102.4,1067.1 C103.7,1072.1 105.3,1069.1 106.4,1069.1 C107.6,1069.1 108.2,1065.4 109.2,1067.1 C110.2,1068.8 111.4,1074.3 112.4,1079.2 C113.5,1084.0 114.5,1097.4 115.7,1096.0 C116.9,1094.7 118.5,1081.3 119.7,1071.1 C120.8,1061.0 121.4,1045.4 122.5,1035.0 C123.6,1024.6 125.2,1013.7 126.5,1008.9 C127.8,1004.1 129.2,1003.7 130.5,1006.1 C131.9,1008.4 133.2,1016.1 134.5,1022.9 C135.9,1029.8 137.4,1041.7 138.6,1047.0 C139.7,1052.4 140.4,1055.4 141.4,1055.1 C142.4,1054.7 143.5,1046.4 144.6,1045.0 C145.6,1043.7 146.6,1043.3 147.8,1047.0 C149.0,1050.7 150.5,1059.1 151.8,1067.1 C153.1,1075.1 154.5,1087.2 155.8,1095.2 C157.2,1103.3 158.7,1107.3 159.8,1115.3 C161.0,1123.3 161.8,1136.1 162.7,1143.4 C163.5,1150.8 163.7,1157.1 164.7,1159.5 C165.7,1161.8 167.3,1157.5 168.7,1157.5 C170.0,1157.5 171.4,1158.8 172.7,1159.5 C174.0,1160.1 174.7,1161.2 176.7,1161.5 C178.7,1161.8 182.7,1162.2 184.7,1161.5 C186.7,1160.8 187.4,1160.5 188.8,1157.5 C190.1,1154.5 191.6,1147.2 192.8,1143.4 C194.0,1139.6 195.0,1134.6 196.0,1134.6 C197.0,1134.6 197.7,1139.8 198.8,1143.4 C199.9,1147.0 201.5,1153.6 202.8,1156.3 C204.1,1158.9 204.5,1158.6 206.8,1159.5 C209.2,1160.3 213.9,1161.1 216.9,1161.5 C219.9,1161.9 222.2,1161.9 224.9,1161.9 C227.6,1161.9 230.3,1161.9 232.9,1161.5 C235.6,1161.1 238.6,1159.9 241.0,1159.5 C243.3,1159.0 245.3,1159.3 247.0,1158.7 C248.7,1158.0 249.7,1155.7 251.0,1155.5 C252.3,1155.3 253.3,1156.8 255.0,1157.5 C256.7,1158.1 259.0,1159.0 261.0,1159.5 C263.1,1159.9 265.1,1160.4 267.1,1160.3 C269.1,1160.1 271.3,1158.8 273.1,1158.7 C274.9,1158.5 276.4,1160.0 277.9,1159.5 C279.4,1158.9 280.9,1158.1 281.9,1155.5 C283.0,1152.8 283.6,1148.8 284.3,1143.4 C285.1,1138.1 285.5,1129.0 286.3,1123.3 C287.1,1117.6 288.0,1110.6 289.2,1109.3 C290.3,1107.9 291.8,1113.1 293.2,1115.3 C294.5,1117.5 295.9,1122.5 297.2,1122.5 C298.5,1122.5 299.9,1118.8 301.2,1115.3 C302.5,1111.8 303.9,1105.9 305.2,1101.2 C306.6,1096.6 308.0,1092.9 309.2,1087.2 C310.4,1081.5 311.4,1074.1 312.4,1067.1 C313.5,1060.1 314.5,1051.0 315.3,1045.0 C316.1,1039.0 316.3,1034.3 317.3,1031.0 C318.3,1027.6 320.3,1029.0 321.3,1024.9 C322.3,1020.9 322.5,1014.6 323.3,1006.9 C324.1,999.2 325.1,987.5 326.1,978.8 C327.1,970.1 328.1,967.4 329.3,954.7 C330.5,941.9 332.1,917.2 333.3,902.4 C334.5,887.7 335.5,875.7 336.5,866.3 C337.6,856.9 338.4,849.0 339.4,846.2 C340.3,843.4 341.0,850.1 342.2,849.4 C343.3,848.8 345.0,845.4 346.2,842.2 C347.4,839.0 348.3,834.0 349.4,830.2 C350.5,826.3 351.6,818.2 352.6,818.9 C353.6,819.6 354.6,825.6 355.4,834.2 C356.2,842.7 356.8,857.6 357.4,870.3 C358.1,883.0 358.8,895.8 359.4,910.5 C360.1,925.2 360.8,948.3 361.4,958.7 C362.1,969.0 362.7,972.7 363.5,972.7 C364.3,972.7 365.3,967.0 366.3,958.7 C367.3,950.3 368.4,936.6 369.5,922.5 C370.5,908.5 371.9,884.0 372.7,874.3 C373.5,864.6 373.5,861.6 374.3,864.3 C375.1,867.0 376.6,879.4 377.5,890.4 C378.4,901.4 378.8,917.2 379.5,930.6 C380.2,943.9 380.9,959.7 381.5,970.7 C382.2,981.8 382.5,994.1 383.5,996.8 C384.5,999.5 386.2,989.8 387.6,986.8 C388.9,983.8 390.2,983.4 391.6,978.8 C392.9,974.1 394.2,966.0 395.6,958.7 C396.9,951.3 398.9,940.3 399.6,934.6 C400.3,928.9 399.3,929.2 400.0,924.5 C400.7,919.9 402.7,912.5 404.0,906.5 C405.4,900.4 406.7,891.9 408.0,888.4 C409.4,884.9 410.7,885.2 412.0,885.6 C413.4,885.9 414.9,888.8 416.1,890.4 C417.3,892.0 418.3,896.2 419.3,895.2 C420.3,894.2 421.1,886.9 422.1,884.4 C423.1,881.9 424.2,878.0 425.3,880.4 C426.4,882.7 427.6,890.7 428.9,898.4 C430.2,906.1 431.6,917.8 432.9,926.5 C434.3,935.2 435.4,942.6 436.9,950.6 C438.5,958.7 440.4,966.7 442.2,974.7 C443.9,982.8 445.9,993.1 447.4,998.8 C448.9,1004.5 450.1,1007.0 451.4,1008.9 C452.7,1010.7 454.1,1008.1 455.4,1010.1 C456.8,1012.1 458.0,1016.4 459.4,1020.9 C460.9,1025.4 462.7,1032.0 464.3,1037.0 C465.9,1042.0 467.2,1047.7 469.1,1051.0 C471.0,1054.4 473.6,1057.1 475.5,1057.1 C477.4,1057.1 478.8,1052.7 480.3,1051.0 C481.8,1049.4 483.0,1048.4 484.3,1047.0 C485.7,1045.7 487.0,1049.7 488.4,1043.0 C489.7,1036.3 491.0,1018.2 492.4,1006.9 C493.7,995.5 494.9,984.8 496.4,974.7 C497.9,964.7 499.7,954.7 501.2,946.6 C502.7,938.6 504.0,925.9 505.2,926.5 C506.4,927.2 507.4,939.9 508.4,950.6 C509.5,961.4 510.4,978.1 511.6,990.8 C512.9,1003.5 514.3,1016.9 515.7,1026.9 C517.0,1037.0 518.5,1046.0 519.7,1051.0 C520.8,1056.1 521.4,1058.4 522.5,1057.1 C523.6,1055.7 525.4,1048.7 526.5,1043.0 C527.6,1037.3 528.0,1027.6 529.3,1022.9 C530.7,1018.2 533.0,1014.9 534.5,1014.9 C536.1,1014.9 537.2,1017.9 538.6,1022.9 C539.9,1028.0 541.2,1040.3 542.6,1045.0 C543.9,1049.7 545.0,1050.7 546.6,1051.0 C548.1,1051.4 550.3,1049.7 551.8,1047.0 C553.3,1044.4 554.7,1043.0 555.8,1035.0 C557.0,1026.9 557.8,1010.9 558.6,998.8 C559.4,986.8 559.8,971.1 560.6,962.7 C561.5,954.3 562.9,949.3 563.9,948.6 C564.9,948.0 565.5,954.3 566.7,958.7 C567.8,963.0 569.3,974.1 570.7,974.7 C572.0,975.4 573.4,967.4 574.7,962.7 C576.0,958.0 577.4,952.0 578.7,946.6 C580.1,941.3 581.6,934.6 582.7,930.6 C583.9,926.5 584.5,921.2 585.5,922.5 C586.5,923.9 587.6,934.6 588.8,938.6 C590.0,942.6 591.4,950.0 592.8,946.6 C594.1,943.3 595.4,929.2 596.8,918.5 C598.1,907.8 599.5,893.1 600.8,882.4 C602.1,871.7 603.5,862.0 604.8,854.3 C606.2,846.6 607.5,836.2 608.8,836.2 C610.2,836.2 611.5,846.6 612.9,854.3 C614.2,862.0 615.4,873.7 616.9,882.4 C618.3,891.1 620.3,899.1 621.7,906.5 C623.0,913.8 624.0,920.5 624.9,926.5 C625.8,932.6 626.2,934.6 626.9,942.6 C627.6,950.6 628.0,964.7 628.9,974.7 C629.8,984.8 630.8,994.1 632.1,1002.9 C633.5,1011.6 635.5,1021.9 636.9,1026.9 C638.4,1032.0 639.5,1032.3 641.0,1033.0 C642.4,1033.6 644.1,1033.0 645.8,1031.0 C647.5,1029.0 649.5,1020.9 651.0,1020.9 C652.5,1020.9 653.7,1026.6 655.0,1031.0 C656.4,1035.3 657.7,1041.7 659.0,1047.0 C660.4,1052.4 661.7,1057.1 663.1,1063.1 C664.4,1069.1 665.9,1075.1 667.1,1083.2 C668.2,1091.2 668.5,1102.6 669.9,1111.3 C671.2,1120.0 673.2,1128.7 675.1,1135.4 C677.0,1142.1 679.1,1148.4 681.1,1151.4 C683.1,1154.5 685.1,1153.1 687.1,1153.5 C689.2,1153.8 691.2,1152.8 693.2,1153.5 C695.2,1154.1 697.5,1157.5 699.2,1157.5 C700.9,1157.5 701.5,1154.5 703.2,1153.5 C704.9,1152.4 707.0,1151.1 709.2,1151.4 C711.4,1151.8 714.8,1157.5 716.5,1155.5 C718.1,1153.5 718.1,1147.4 719.3,1139.4 C720.4,1131.4 722.0,1114.6 723.3,1107.3 C724.6,1099.9 726.0,1096.6 727.3,1095.2 C728.6,1093.9 730.0,1099.2 731.3,1099.2 C732.7,1099.2 734.0,1096.6 735.3,1095.2 C736.7,1093.9 738.0,1090.5 739.4,1091.2 C740.7,1091.9 742.0,1097.6 743.4,1099.2 C744.7,1100.9 746.1,1101.2 747.4,1101.2 C748.7,1101.2 749.7,1100.6 751.4,1099.2 C753.1,1097.9 755.8,1095.1 757.4,1093.2 C759.1,1091.3 760.2,1087.3 761.4,1088.0 C762.7,1088.7 763.7,1092.3 764.7,1097.2 C765.7,1102.1 766.3,1115.0 767.5,1117.3 C768.6,1119.7 770.1,1112.6 771.5,1111.3 C772.8,1109.9 774.2,1110.3 775.5,1109.3 C776.8,1108.3 778.2,1104.9 779.5,1105.3 C780.9,1105.6 782.2,1109.3 783.5,1111.3 C784.9,1113.3 786.2,1118.0 787.6,1117.3 C788.9,1116.6 790.2,1109.3 791.6,1107.3 C792.9,1105.3 794.2,1104.6 795.6,1105.3 C796.9,1105.9 798.3,1107.9 799.6,1111.3 C800.9,1114.6 802.3,1122.3 803.6,1125.3 C805.0,1128.4 806.6,1131.0 807.6,1129.4 C808.7,1127.7 809.1,1118.0 810.0,1115.3 C810.9,1112.6 812.2,1111.3 813.2,1113.3 C814.2,1115.3 814.9,1124.7 816.0,1127.3 C817.2,1130.0 818.7,1128.7 820.0,1129.4 C821.4,1130.0 822.7,1128.4 824.1,1131.4 C825.4,1134.4 826.4,1143.4 828.1,1147.4 C829.7,1151.4 832.3,1154.5 834.1,1155.5 C835.9,1156.5 837.2,1155.8 838.9,1153.5 C840.6,1151.1 842.6,1142.1 844.1,1141.4 C845.7,1140.7 846.5,1147.9 848.2,1149.4 C849.8,1151.0 852.2,1150.8 854.2,1150.6 C856.2,1150.5 858.2,1149.7 860.2,1148.6 C862.2,1147.6 864.6,1144.1 866.2,1144.2 C867.9,1144.4 868.9,1147.6 870.2,1149.4 C871.6,1151.3 872.8,1155.1 874.3,1155.5 C875.7,1155.8 877.4,1151.1 879.1,1151.4 C880.7,1151.8 882.8,1157.8 884.3,1157.5 C885.8,1157.1 886.6,1153.5 888.3,1149.4 C890.0,1145.4 892.3,1138.1 894.3,1133.4 C896.3,1128.7 898.7,1123.8 900.4,1121.3 C902.0,1118.8 903.0,1117.5 904.4,1118.5 C905.7,1119.5 907.1,1123.2 908.4,1127.3 C909.7,1131.5 910.7,1138.4 912.4,1143.4 C914.1,1148.4 916.4,1154.5 918.4,1157.5 C920.4,1160.5 922.4,1161.8 924.5,1161.5 C926.5,1161.2 928.5,1156.1 930.5,1155.5 C932.5,1154.8 934.2,1156.9 936.5,1157.5 C938.8,1158.0 941.9,1158.3 944.5,1158.7 C947.2,1159.0 950.2,1160.0 952.6,1159.5 C954.9,1158.9 956.3,1156.0 958.6,1155.5 C960.9,1154.9 963.9,1156.1 966.6,1156.3 C969.3,1156.5 972.3,1157.1 974.7,1156.7 C977.0,1156.2 978.7,1155.3 980.7,1153.5 C982.7,1151.6 984.4,1147.2 986.7,1145.4 C989.0,1143.6 992.4,1141.9 994.7,1142.6 C997.1,1143.3 999.1,1150.0 1000.8,1149.4 C1002.4,1148.9 1003.1,1144.8 1004.8,1139.4 C1006.5,1134.0 1008.6,1122.3 1010.8,1117.3 C1013.0,1112.3 1016.0,1109.3 1018.0,1109.3 C1020.0,1109.3 1021.0,1113.0 1022.9,1117.3 C1024.7,1121.7 1026.5,1128.7 1028.9,1135.4 C1031.2,1142.1 1034.2,1153.6 1036.9,1157.5 C1039.6,1161.4 1042.3,1158.3 1044.9,1158.7 C1047.6,1159.0 1050.6,1160.0 1053.0,1159.5 C1055.3,1158.9 1056.7,1157.1 1059.0,1155.5 C1061.3,1153.8 1064.4,1151.6 1067.0,1149.4 C1069.7,1147.3 1072.7,1143.6 1075.1,1142.6 C1077.4,1141.6 1079.1,1145.0 1081.1,1143.4 C1083.1,1141.9 1085.4,1133.7 1087.1,1133.4 C1088.8,1133.0 1089.7,1137.4 1091.1,1141.4 C1092.6,1145.4 1093.9,1155.8 1095.9,1157.5 C1098.0,1159.1 1101.0,1152.1 1103.2,1151.4 C1105.4,1150.8 1107.1,1152.4 1109.2,1153.5 C1111.3,1154.5 1114.0,1158.1 1116.0,1157.5 C1118.0,1156.8 1119.7,1152.4 1121.2,1149.4 C1122.8,1146.4 1123.9,1149.1 1125.3,1139.4 C1126.6,1129.7 1127.9,1105.3 1129.3,1091.2 C1130.6,1077.1 1132.0,1061.4 1133.3,1055.1 C1134.6,1048.7 1136.0,1051.7 1137.3,1053.1 C1138.6,1054.4 1140.0,1055.4 1141.3,1063.1 C1142.7,1070.8 1144.0,1089.9 1145.3,1099.2 C1146.7,1108.6 1147.8,1112.3 1149.4,1119.3 C1150.9,1126.3 1152.8,1136.4 1154.6,1141.4 C1156.4,1146.4 1158.1,1147.1 1160.2,1149.4 C1162.3,1151.8 1165.2,1154.1 1167.4,1155.5 C1169.6,1156.8 1170.8,1157.1 1173.5,1157.5 C1176.1,1157.8 1179.8,1157.7 1183.5,1157.5 C1187.2,1157.3 1192.5,1156.5 1195.5,1156.3 C1198.6,1156.1 1199.7,1157.7 1201.6,1156.3 C1203.4,1154.8 1205.4,1149.9 1206.8,1147.4 C1208.2,1145.0 1208.9,1141.4 1210.0,1141.4 C1211.1,1141.4 1212.1,1145.1 1213.6,1147.4 C1215.1,1149.8 1217.8,1154.1 1218.8,1155.5 C1219.9,1156.8 1219.1,1156.5 1220.0,1155.5 C1220.9,1154.5 1222.7,1152.1 1224.0,1149.4 C1225.4,1146.8 1226.7,1143.7 1228.0,1139.4 C1229.4,1135.0 1230.7,1130.7 1232.0,1123.3 C1233.4,1116.0 1234.7,1102.6 1236.1,1095.2 C1237.4,1087.9 1238.9,1082.4 1240.1,1079.2 C1241.3,1075.9 1242.1,1074.6 1243.3,1075.9 C1244.5,1077.3 1246.0,1080.6 1247.3,1087.2 C1248.6,1093.7 1250.0,1106.9 1251.3,1115.3 C1252.7,1123.7 1254.0,1132.4 1255.3,1137.4 C1256.7,1142.4 1257.9,1143.4 1259.4,1145.4 C1260.8,1147.4 1262.4,1149.4 1264.2,1149.4 C1266.0,1149.4 1268.2,1147.8 1270.2,1145.4 C1272.2,1143.1 1274.4,1139.7 1276.2,1135.4 C1278.0,1131.0 1279.6,1123.3 1281.0,1119.3 C1282.5,1115.3 1283.9,1113.0 1285.1,1111.3 C1286.3,1109.6 1287.1,1108.3 1288.3,1109.3 C1289.5,1110.3 1291.0,1114.0 1292.3,1117.3 C1293.6,1120.7 1295.1,1126.7 1296.3,1129.4 C1297.5,1132.0 1298.5,1135.7 1299.5,1133.4 C1300.5,1131.0 1301.4,1121.7 1302.3,1115.3 C1303.3,1108.9 1304.1,1099.6 1305.1,1095.2 C1306.1,1090.9 1307.1,1091.2 1308.4,1089.2 C1309.6,1087.2 1311.0,1086.2 1312.4,1083.2 C1313.7,1080.2 1315.2,1072.1 1316.4,1071.1 C1317.6,1070.1 1318.4,1074.5 1319.6,1077.1 C1320.8,1079.8 1322.3,1084.5 1323.6,1087.2 C1325.0,1089.9 1326.5,1094.6 1327.6,1093.2 C1328.8,1091.9 1329.5,1089.5 1330.4,1079.2 C1331.4,1068.8 1332.4,1049.0 1333.3,1031.0 C1334.1,1012.9 1334.8,986.1 1335.7,970.7 C1336.5,955.3 1337.7,945.3 1338.5,938.6 C1339.3,931.9 1339.6,928.6 1340.5,930.6 C1341.4,932.6 1342.5,941.9 1343.7,950.6 C1344.9,959.3 1346.6,974.1 1347.7,982.8 C1348.8,991.5 1349.6,994.8 1350.5,1002.9 C1351.5,1010.9 1352.3,1020.9 1353.3,1031.0 C1354.3,1041.0 1355.5,1054.9 1356.5,1063.1 C1357.6,1071.3 1358.8,1079.3 1359.8,1080.0 C1360.8,1080.6 1361.6,1073.9 1362.6,1067.1 C1363.5,1060.3 1364.2,1047.7 1365.4,1039.0 C1366.5,1030.3 1368.2,1022.9 1369.4,1014.9 C1370.6,1006.9 1371.4,998.8 1372.6,990.8 C1373.8,982.8 1375.2,971.4 1376.6,966.7 C1378.1,962.0 1380.1,965.4 1381.4,962.7 C1382.8,960.0 1383.8,957.3 1384.7,950.6 C1385.5,943.9 1386.0,935.9 1386.7,922.5 C1387.3,909.1 1387.8,884.4 1388.7,870.3 C1389.5,856.3 1390.9,843.2 1391.9,838.2 C1392.9,833.2 1393.8,836.2 1394.7,840.2 C1395.6,844.2 1396.5,853.3 1397.5,862.3 C1398.5,871.3 1399.7,886.1 1400.7,894.4 C1401.7,902.8 1402.5,913.2 1403.5,912.5 C1404.5,911.8 1405.7,899.4 1406.7,890.4 C1407.8,881.4 1408.6,868.6 1409.6,858.3 C1410.6,847.9 1411.7,834.2 1412.8,828.2 C1413.8,822.1 1415.0,820.5 1416.0,822.1 C1417.0,823.8 1417.9,830.2 1418.8,838.2 C1419.7,846.2 1420.6,856.9 1421.6,870.3 C1422.6,883.7 1423.7,913.8 1424.8,918.5 C1425.9,923.2 1427.0,907.8 1428.0,898.4 C1429.0,889.1 1429.7,871.7 1430.8,862.3 C1432.0,852.9 1433.5,847.6 1434.9,842.2 C1436.2,836.9 1437.5,831.5 1438.9,830.2 C1440.2,828.8 1441.6,834.5 1442.9,834.2 C1444.2,833.8 1445.6,829.2 1446.9,828.2 C1448.2,827.1 1449.6,824.5 1450.9,828.2 C1452.3,831.8 1453.6,841.2 1454.9,850.2 C1456.3,859.3 1457.6,871.0 1459.0,882.4 C1460.3,893.7 1461.6,907.5 1463.0,918.5 C1464.3,929.6 1465.4,941.6 1467.0,948.6 C1468.5,955.7 1470.5,955.3 1472.2,960.7 C1473.9,966.0 1475.2,973.1 1477.0,980.8 C1478.8,988.5 1481.0,998.5 1483.1,1006.9 C1485.1,1015.2 1487.1,1024.3 1489.1,1031.0 C1491.1,1037.7 1493.2,1041.7 1495.1,1047.0 C1497.0,1052.4 1498.6,1063.1 1500.3,1063.1 C1502.0,1063.1 1503.3,1053.7 1505.1,1047.0 C1506.9,1040.3 1509.3,1029.3 1511.2,1022.9 C1513.0,1016.6 1514.7,1011.2 1516.4,1008.9 C1518.1,1006.5 1519.6,1011.9 1521.2,1008.9 C1522.8,1005.9 1524.4,997.2 1526.0,990.8 C1527.7,984.4 1529.7,977.4 1531.2,970.7 C1532.8,964.0 1533.9,956.0 1535.3,950.6 C1536.6,945.3 1537.9,938.9 1539.3,938.6 C1540.6,938.3 1542.0,948.3 1543.3,948.6 C1544.6,949.0 1546.0,945.6 1547.3,940.6 C1548.6,935.6 1550.0,924.9 1551.3,918.5 C1552.7,912.2 1554.0,906.5 1555.3,902.4 C1556.7,898.4 1558.0,898.4 1559.4,894.4 C1560.7,890.4 1562.0,883.7 1563.4,878.4 C1564.7,873.0 1566.1,868.3 1567.4,862.3 C1568.7,856.3 1570.1,848.2 1571.4,842.2 C1572.7,836.2 1573.9,829.8 1575.4,826.1 C1577.0,822.5 1579.1,819.5 1580.6,820.1 C1582.2,820.8 1583.5,821.8 1584.7,830.2 C1585.8,838.5 1586.5,857.6 1587.5,870.3 C1588.4,883.0 1589.3,895.1 1590.3,906.5 C1591.3,917.8 1592.6,932.2 1593.5,938.6 C1594.4,945.0 1594.7,945.0 1595.5,944.6 C1596.3,944.3 1597.2,938.9 1598.3,936.6 C1599.5,934.2 1601.0,929.9 1602.3,930.6 C1603.7,931.2 1605.1,935.2 1606.3,940.6 C1607.6,946.0 1608.4,954.3 1609.6,962.7 C1610.8,971.1 1612.2,982.1 1613.6,990.8 C1614.9,999.5 1616.3,1008.9 1617.6,1014.9 C1618.9,1020.9 1620.3,1023.6 1621.6,1026.9 C1622.9,1030.3 1624.3,1034.6 1625.6,1035.0 C1627.0,1035.3 1628.9,1030.3 1629.6,1029.0 C1630.4,1027.6 1629.3,1026.6 1630.0,1026.9 C1630.7,1027.3 1632.7,1028.0 1634.0,1031.0 C1635.4,1034.0 1636.7,1041.7 1638.0,1045.0 C1639.4,1048.4 1640.6,1048.6 1642.0,1051.0 C1643.5,1053.5 1645.4,1059.9 1646.9,1059.9 C1648.3,1059.9 1649.5,1054.4 1650.9,1051.0 C1652.2,1047.7 1653.6,1041.1 1654.9,1039.8 C1656.2,1038.5 1657.4,1042.3 1658.9,1043.0 C1660.5,1043.7 1662.8,1043.1 1664.1,1043.8 C1665.5,1044.5 1665.9,1043.8 1666.9,1047.0 C1668.0,1050.2 1669.0,1058.4 1670.2,1063.1 C1671.4,1067.8 1672.5,1071.8 1674.2,1075.1 C1675.9,1078.5 1678.5,1080.2 1680.2,1083.2 C1681.9,1086.2 1682.7,1090.4 1684.2,1093.2 C1685.8,1096.0 1687.4,1098.7 1689.4,1100.0 C1691.4,1101.4 1694.3,1100.8 1696.3,1101.2 C1698.3,1101.6 1699.8,1099.4 1701.5,1102.4 C1703.2,1105.5 1704.8,1113.8 1706.3,1119.3 C1707.8,1124.8 1708.6,1129.2 1710.3,1135.4 C1712.0,1141.5 1714.3,1153.3 1716.3,1156.3 C1718.4,1159.3 1720.4,1153.9 1722.4,1153.5 C1724.4,1153.0 1726.5,1153.8 1728.4,1153.5 C1730.3,1153.1 1731.9,1151.1 1733.6,1151.4 C1735.3,1151.8 1736.6,1154.3 1738.4,1155.5 C1740.2,1156.7 1742.4,1158.1 1744.5,1158.7 C1746.5,1159.2 1748.7,1159.5 1750.5,1158.7 C1752.3,1157.8 1753.6,1155.9 1755.3,1153.5 C1757.0,1151.0 1758.8,1145.2 1760.5,1144.2 C1762.3,1143.2 1764.1,1145.9 1765.7,1147.4 C1767.4,1149.0 1769.1,1152.9 1770.6,1153.5 C1772.0,1154.0 1773.2,1151.5 1774.6,1150.6 C1775.9,1149.8 1777.3,1148.0 1778.6,1148.2 C1779.9,1148.5 1781.4,1153.1 1782.6,1152.2 C1783.8,1151.4 1784.8,1150.2 1785.8,1143.4 C1786.8,1136.6 1787.7,1118.6 1788.6,1111.3 C1789.6,1103.9 1790.4,1099.9 1791.4,1099.2 C1792.4,1098.6 1793.5,1104.6 1794.7,1107.3 C1795.9,1109.9 1797.2,1113.6 1798.7,1115.3 C1800.1,1117.0 1801.8,1115.3 1803.5,1117.3 C1805.2,1119.3 1807.2,1124.3 1808.7,1127.3 C1810.3,1130.4 1811.1,1132.4 1812.7,1135.4 C1814.4,1138.4 1816.7,1141.7 1818.8,1145.4 C1820.8,1149.1 1822.8,1155.5 1824.8,1157.5 C1826.8,1159.5 1829.0,1157.7 1830.8,1157.5 C1832.6,1157.3 1834.3,1157.9 1835.6,1156.3 C1837.0,1154.6 1837.6,1150.6 1838.8,1147.4 C1840.0,1144.3 1841.5,1139.9 1842.9,1137.4 C1844.2,1134.8 1845.5,1132.5 1846.9,1132.2 C1848.2,1131.8 1849.5,1132.8 1850.9,1135.4 C1852.2,1137.9 1853.6,1146.8 1854.9,1147.4 C1856.2,1148.1 1857.7,1146.1 1858.9,1139.4 C1860.1,1132.7 1861.1,1113.6 1862.1,1107.3 C1863.1,1100.9 1863.8,1101.2 1864.9,1101.2 C1866.1,1101.2 1867.6,1102.2 1869.0,1107.3 C1870.3,1112.3 1871.6,1123.7 1873.0,1131.4 C1874.3,1139.1 1875.3,1149.8 1877.0,1153.5 C1878.7,1157.1 1881.0,1153.5 1883.0,1153.5 C1885.0,1153.5 1887.4,1154.1 1889.0,1153.5 C1890.7,1152.8 1891.7,1149.4 1893.1,1149.4 C1894.4,1149.4 1895.4,1152.1 1897.1,1153.5 C1898.7,1154.8 1901.3,1157.3 1903.1,1157.5 C1904.9,1157.7 1906.2,1155.3 1907.9,1154.7 C1909.6,1154.0 1911.3,1153.0 1913.1,1153.5 C1915.0,1153.9 1917.1,1157.5 1919.2,1157.5 C1921.2,1157.5 1923.5,1156.1 1925.2,1153.5 C1926.9,1150.8 1927.9,1145.4 1929.2,1141.4 C1930.5,1137.4 1931.9,1131.0 1933.2,1129.4 C1934.6,1127.7 1935.9,1129.4 1937.2,1131.4 C1938.6,1133.4 1939.9,1140.1 1941.2,1141.4 C1942.6,1142.7 1943.6,1140.5 1945.3,1139.4 C1946.9,1138.3 1949.3,1136.3 1951.3,1134.6 C1953.3,1132.9 1955.3,1129.8 1957.3,1129.4 C1959.3,1129.0 1961.3,1131.5 1963.3,1132.2 C1965.3,1132.8 1967.7,1133.2 1969.4,1133.4 C1971.0,1133.6 1972.0,1132.7 1973.4,1133.4 C1974.7,1134.0 1975.9,1134.7 1977.4,1137.4 C1978.9,1140.1 1980.9,1146.1 1982.6,1149.4 C1984.3,1152.8 1985.3,1155.9 1987.4,1157.5 C1989.6,1159.0 1993.1,1159.0 1995.5,1158.7 C1997.8,1158.3 1999.5,1155.7 2001.5,1155.5 C2003.5,1155.3 2005.5,1158.0 2007.5,1157.5 C2009.5,1156.9 2011.9,1152.6 2013.5,1152.2 C2015.2,1151.9 2016.2,1154.3 2017.6,1155.5 C2018.9,1156.7 2020.2,1159.5 2021.6,1159.5 C2022.9,1159.5 2024.2,1156.5 2025.6,1155.5 C2026.9,1154.5 2027.9,1152.9 2029.6,1153.5 C2031.3,1154.0 2033.9,1158.0 2035.6,1158.7 C2037.4,1159.3 2038.3,1158.0 2040.0,1157.5 C2041.7,1156.9 2044.0,1155.5 2046.0,1155.5 C2048.0,1155.5 2050.0,1157.1 2052.0,1157.5 C2054.1,1157.8 2056.1,1157.9 2058.1,1157.5 C2060.1,1157.0 2062.3,1156.2 2064.1,1154.7 C2065.9,1153.1 2067.4,1148.4 2068.9,1148.2 C2070.4,1148.0 2071.4,1151.9 2072.9,1153.5 C2074.5,1155.0 2076.3,1157.0 2078.2,1157.5 C2080.0,1157.9 2082.2,1156.9 2084.2,1156.3 C2086.2,1155.6 2088.2,1155.5 2090.2,1153.5 C2092.2,1151.4 2094.4,1145.2 2096.2,1144.2 C2098.0,1143.2 2099.4,1146.2 2101.0,1147.4 C2102.7,1148.6 2104.4,1150.1 2106.3,1151.4 C2108.1,1152.8 2110.3,1154.9 2112.3,1155.5 C2114.3,1156.0 2116.6,1154.5 2118.3,1154.7 C2120.0,1154.8 2120.8,1156.8 2122.3,1156.3 C2123.9,1155.7 2125.5,1153.3 2127.6,1151.4 C2129.6,1149.6 2132.2,1147.1 2134.4,1145.4 C2136.5,1143.7 2138.6,1143.7 2140.4,1141.4 C2142.2,1139.1 2143.9,1134.7 2145.2,1131.4 C2146.6,1128.0 2147.2,1122.7 2148.4,1121.3 C2149.6,1120.0 2151.1,1123.7 2152.4,1123.3 C2153.8,1123.0 2155.3,1122.0 2156.5,1119.3 C2157.7,1116.6 2158.7,1111.3 2159.7,1107.3 C2160.7,1103.3 2161.6,1099.9 2162.5,1095.2 C2163.4,1090.5 2164.3,1084.5 2165.3,1079.2 C2166.3,1073.8 2167.4,1068.4 2168.5,1063.1 C2169.6,1057.7 2170.7,1052.4 2171.7,1047.0 C2172.7,1041.7 2173.4,1034.6 2174.5,1031.0 C2175.7,1027.3 2177.6,1027.6 2178.6,1024.9 C2179.6,1022.3 2179.7,1019.9 2180.6,1014.9 C2181.4,1009.9 2182.8,999.5 2183.8,994.8 C2184.8,990.1 2185.6,986.8 2186.6,986.8 C2187.5,986.8 2188.4,990.8 2189.4,994.8 C2190.4,998.8 2191.7,1007.5 2192.6,1010.9 C2193.5,1014.2 2193.8,1016.2 2194.6,1014.9 C2195.4,1013.6 2196.4,1008.2 2197.4,1002.9 C2198.4,997.5 2199.6,988.8 2200.6,982.8 C2201.7,976.7 2202.7,971.4 2203.9,966.7 C2205.1,962.0 2206.5,957.7 2207.9,954.7 C2209.2,951.6 2210.5,951.0 2211.9,948.6 C2213.2,946.3 2214.4,942.6 2215.9,940.6 C2217.4,938.6 2219.4,938.9 2220.7,936.6 C2222.1,934.2 2222.9,930.9 2223.9,926.5 C2224.9,922.2 2225.8,914.2 2226.7,910.5 C2227.7,906.8 2228.6,904.1 2229.6,904.5 C2230.6,904.8 2231.7,909.5 2232.8,912.5 C2233.8,915.5 2234.8,921.2 2236.0,922.5 C2237.2,923.9 2238.9,920.5 2240.0,920.5 C2241.1,920.5 2241.7,920.9 2242.8,922.5 C2243.9,924.2 2245.5,931.2 2246.8,930.6 C2248.2,929.9 2249.5,925.2 2250.8,918.5 C2252.2,911.8 2253.5,901.1 2254.9,890.4 C2256.2,879.7 2257.5,865.0 2258.9,854.3 C2260.2,843.5 2261.8,832.2 2262.9,826.1 C2264.0,820.1 2264.7,817.4 2265.7,818.1 C2266.7,818.8 2267.7,822.8 2268.9,830.2 C2270.1,837.5 2271.6,852.9 2272.9,862.3 C2274.3,871.7 2275.6,879.4 2276.9,886.4 C2278.3,893.4 2279.6,901.8 2281.0,904.5 C2282.3,907.1 2283.6,903.8 2285.0,902.4 C2286.3,901.1 2287.7,896.4 2289.0,896.4 C2290.3,896.4 2291.7,899.1 2293.0,902.4 C2294.4,905.8 2295.7,917.2 2297.0,916.5 C2298.4,915.8 2299.7,906.1 2301.0,898.4 C2302.4,890.7 2303.7,879.0 2305.1,870.3 C2306.4,861.6 2307.7,853.3 2309.1,846.2 C2310.4,839.2 2311.8,827.5 2313.1,828.2 C2314.4,828.8 2315.8,841.2 2317.1,850.2 C2318.4,859.3 2319.8,878.4 2321.1,882.4 C2322.5,886.4 2323.8,875.3 2325.1,874.3 C2326.5,873.3 2327.8,875.3 2329.2,876.3 C2330.5,877.3 2331.8,882.7 2333.2,880.4 C2334.5,878.0 2336.2,870.7 2337.2,862.3 C2338.2,853.9 2338.4,832.8 2339.2,830.2 C2340.0,827.5 2341.1,838.9 2342.0,846.2 C2342.9,853.6 2343.5,864.3 2344.4,874.3 C2345.3,884.4 2346.1,896.4 2347.2,906.5 C2348.4,916.5 2349.9,927.2 2351.2,934.6 C2352.6,941.9 2353.9,950.3 2355.3,950.6 C2356.6,951.0 2357.9,939.3 2359.3,936.6 C2360.6,933.9 2362.0,933.9 2363.3,934.6 C2364.6,935.2 2366.2,939.9 2367.3,940.6 C2368.4,941.3 2369.1,942.3 2370.1,938.6 C2371.1,934.9 2372.1,925.5 2373.3,918.5 C2374.5,911.5 2376.0,901.4 2377.3,896.4 C2378.7,891.4 2380.0,889.4 2381.4,888.4 C2382.7,887.4 2384.0,888.4 2385.4,890.4 C2386.7,892.4 2388.1,897.1 2389.4,900.4 C2390.7,903.8 2392.1,910.8 2393.4,910.5 C2394.8,910.1 2396.1,903.1 2397.4,898.4 C2398.8,893.7 2400.0,887.1 2401.4,882.4 C2402.9,877.7 2404.9,871.7 2406.3,870.3 C2407.6,869.0 2408.3,870.3 2409.5,874.3 C2410.7,878.4 2412.2,887.7 2413.5,894.4 C2414.8,901.1 2416.2,908.5 2417.5,914.5 C2418.8,920.5 2420.1,926.5 2421.5,930.6 C2423.0,934.6 2424.7,937.3 2426.3,938.6 C2428.0,939.9 2430.0,938.9 2431.6,938.6 C2433.1,938.3 2434.2,935.9 2435.6,936.6 C2436.9,937.3 2438.3,938.9 2439.6,942.6 C2440.9,946.3 2442.3,950.6 2443.6,958.7 C2445.0,966.7 2446.6,981.4 2447.6,990.8 C2448.7,1000.2 2449.3,1006.9 2450.0,1014.9 C2450.7,1022.9 2451.2,1032.0 2452.0,1039.0 C2452.8,1046.0 2453.7,1051.7 2454.8,1057.1 C2456.0,1062.4 2457.3,1066.4 2458.8,1071.1 C2460.4,1075.8 2462.2,1082.4 2464.1,1085.2 C2465.9,1088.0 2468.3,1087.0 2470.1,1088.0 C2471.9,1089.0 2473.4,1089.3 2474.9,1091.2 C2476.4,1093.1 2477.6,1095.9 2478.9,1099.2 C2480.3,1102.6 2481.6,1105.9 2482.9,1111.3 C2484.3,1116.6 2485.6,1125.7 2486.9,1131.4 C2488.3,1137.1 2489.4,1142.4 2491.0,1145.4 C2492.5,1148.4 2494.4,1147.8 2496.2,1149.4 C2497.9,1151.1 2499.7,1155.1 2501.4,1155.5 C2503.1,1155.8 2504.8,1153.1 2506.2,1151.4 C2507.7,1149.8 2508.9,1145.8 2510.2,1145.4 C2511.6,1145.1 2512.9,1150.4 2514.3,1149.4 C2515.6,1148.4 2516.9,1142.4 2518.3,1139.4 C2519.6,1136.4 2520.6,1132.8 2522.3,1131.4 C2524.0,1129.9 2526.3,1130.6 2528.3,1130.6 C2530.3,1130.6 2532.7,1130.2 2534.3,1131.4 C2536.0,1132.5 2537.0,1134.4 2538.4,1137.4 C2539.7,1140.4 2540.9,1146.8 2542.4,1149.4 C2543.8,1152.1 2545.5,1152.8 2547.2,1153.5 C2548.9,1154.1 2550.7,1153.1 2552.4,1153.5 C2554.1,1153.8 2556.0,1154.8 2557.6,1155.5 C2559.3,1156.1 2560.8,1157.1 2562.4,1157.5 C2564.1,1157.8 2565.6,1157.8 2567.3,1157.5 C2568.9,1157.1 2570.7,1156.1 2572.5,1155.5 C2574.2,1154.8 2576.0,1153.1 2577.7,1153.5 C2579.4,1153.8 2581.1,1156.6 2582.5,1157.5 C2584.0,1158.3 2585.2,1159.7 2586.5,1158.7 C2587.9,1157.7 2589.2,1155.7 2590.6,1151.4 C2591.9,1147.2 2593.4,1136.7 2594.6,1133.4 C2595.8,1130.0 2596.6,1131.0 2597.8,1131.4 C2599.0,1131.7 2600.3,1135.7 2601.8,1135.4 C2603.3,1135.0 2605.2,1130.7 2606.6,1129.4 C2608.1,1128.0 2609.3,1128.4 2610.6,1127.3 C2612.0,1126.3 2613.3,1123.5 2614.7,1123.3 C2616.0,1123.2 2617.3,1127.2 2618.7,1126.5 C2620.0,1125.9 2621.5,1125.2 2622.7,1119.3 C2623.9,1113.4 2624.9,1101.2 2625.9,1091.2 C2626.9,1081.2 2627.6,1067.8 2628.7,1059.1 C2629.9,1050.4 2631.4,1044.4 2632.7,1039.0 C2634.1,1033.6 2635.4,1029.6 2636.7,1026.9 C2638.1,1024.3 2639.4,1021.6 2640.8,1022.9 C2642.1,1024.3 2643.6,1029.6 2644.8,1035.0 C2645.9,1040.3 2646.6,1046.4 2647.6,1055.1 C2648.6,1063.8 2649.6,1076.5 2650.8,1087.2 C2652.0,1097.9 2653.5,1111.3 2654.8,1119.3 C2656.2,1127.3 2657.5,1131.7 2658.8,1135.4 C2660.2,1139.1 2661.5,1139.9 2662.9,1141.4 C2664.2,1142.9 2665.5,1143.3 2666.9,1144.2 C2668.2,1145.1 2669.7,1148.1 2670.9,1146.6 C2672.1,1145.2 2673.1,1142.6 2674.1,1135.4 C2675.1,1128.2 2675.8,1111.3 2676.9,1103.3 C2678.0,1095.2 2679.8,1091.9 2680.9,1087.2 C2682.1,1082.5 2682.6,1076.5 2683.7,1075.1 C2684.9,1073.8 2686.4,1077.1 2687.8,1079.2 C2689.1,1081.2 2690.4,1085.9 2691.8,1087.2 C2693.1,1088.5 2694.4,1089.5 2695.8,1087.2 C2697.1,1084.8 2698.5,1078.5 2699.8,1073.1 C2701.1,1067.8 2702.6,1058.2 2703.8,1055.1 C2705.0,1051.9 2706.0,1051.6 2707.0,1054.3 C2708.1,1056.9 2709.2,1064.3 2710.2,1071.1 C2711.3,1078.0 2712.3,1092.5 2713.5,1095.2 C2714.6,1097.9 2716.0,1089.9 2717.1,1087.2 C2718.1,1084.5 2718.9,1079.8 2719.9,1079.2 C2720.9,1078.5 2721.9,1079.2 2723.1,1083.2 C2724.3,1087.2 2725.8,1098.6 2727.1,1103.3 C2728.4,1107.9 2729.8,1112.0 2731.1,1111.3 C2732.5,1110.6 2733.8,1103.3 2735.1,1099.2 C2736.5,1095.2 2737.8,1089.2 2739.2,1087.2 C2740.5,1085.2 2741.8,1089.9 2743.2,1087.2 C2744.5,1084.5 2746.0,1074.5 2747.2,1071.1 C2748.4,1067.8 2749.4,1071.1 2750.4,1067.1 C2751.4,1063.1 2752.4,1055.7 2753.2,1047.0 C2754.0,1038.3 2754.6,1025.6 2755.2,1014.9 C2755.9,1004.2 2756.4,991.8 2757.2,982.8 C2758.0,973.7 2759.2,963.4 2760.0,960.7 C2760.9,958.0 2761.6,963.4 2762.4,966.7 C2763.3,970.1 2764.5,980.8 2765.3,980.8 C2766.1,980.8 2766.5,972.4 2767.3,966.7 C2768.1,961.0 2769.2,954.0 2770.1,946.6 C2771.0,939.3 2771.8,926.9 2772.5,922.5 C2773.2,918.2 2773.8,920.9 2774.1,920.5" fill="none" stroke="#000" stroke-width="2.4" stroke-linejoin="round"/>
</g>
<g stroke="#1a1a08" stroke-width="2" fill="none" stroke-linecap="round"><line x1="2784.5" y1="1048.4" x2="2991.8" y2="841.1"/><polyline points="2978.2,841.1 2991.8,841.1 2991.8,854.7"/></g>
<g transform="translate(2866.6,922.7) rotate(-45.5)"><text x="0.0" y="0.0" font-size="18" fill="#1a1a08" font-weight="normal" font-style="normal" text-anchor="middle" textLength="88.9" lengthAdjust="spacingAndGlyphs" >silver gold</text></g>
<g transform="translate(2879.1,936.3) rotate(-45.5)"><text x="0.0" y="0.0" font-size="18" fill="#1a1a08" font-weight="normal" font-style="normal" text-anchor="middle" textLength="169.1" lengthAdjust="spacingAndGlyphs" >oil uranium miners</text></g>
<line x1="263" y1="1168.3" x2="717.3" y2="992.8" stroke="#000" stroke-width="1" stroke-dasharray="5 4"/>
<line x1="1252.1" y1="1160.3" x2="1717.5" y2="976.7" stroke="#000" stroke-width="1" stroke-dasharray="5 4"/>
<line x1="2072.1" y1="1066.3" x2="2447.6" y2="918.5" stroke="#000" stroke-width="1" stroke-dasharray="5 4"/>
<line x1="2309.1" y1="809.3" x2="2745.2" y2="1088" stroke="#000" stroke-width="2.4" stroke-dasharray="9.5 12"/>
<g transform="translate(2487.5,914.2) rotate(32.58)"><text x="0.0" y="0.0" font-size="14" fill="#131722" font-weight="normal" font-style="normal" text-anchor="start" textLength="118.5" lengthAdjust="spacingAndGlyphs" >early breakout line</text></g>
<rect x="298" y="794" width="328" height="272" fill="rgba(255,235,59,0.15)"/>
<line x1="298" y1="930.5" x2="626" y2="930.5" stroke="#9c27b0" stroke-width="1" stroke-dasharray="6 4"/>
<rect x="298" y="794" width="328" height="272" fill="none" stroke="#000" stroke-width="2" stroke-dasharray="2 4"/>
<rect x="1317" y="801" width="281" height="272" fill="rgba(255,235,59,0.15)"/>
<line x1="1317" y1="937.5" x2="1598" y2="937.5" stroke="#9c27b0" stroke-width="1" stroke-dasharray="6 4"/>
<rect x="1317" y="801" width="281" height="272" fill="none" stroke="#000" stroke-width="2" stroke-dasharray="2 4"/>
<rect x="2152" y="804" width="264" height="269" fill="rgba(255,235,59,0.15)"/>
<line x1="2152" y1="938.5" x2="2416" y2="938.5" stroke="#9c27b0" stroke-width="1" stroke-dasharray="6 4"/>
<rect x="2152" y="804" width="264" height="269" fill="none" stroke="#000" stroke-width="2" stroke-dasharray="2 4"/>
<rect x="2737" y="826" width="264" height="240" fill="rgba(255,235,59,0.15)"/>
<line x1="2737" y1="933.5" x2="3001" y2="933.5" stroke="#9c27b0" stroke-width="1" stroke-dasharray="6 4"/>
<rect x="2737" y="826" width="264" height="240" fill="none" stroke="#000" stroke-width="2" stroke-dasharray="2 4"/>
<circle cx="293.5" cy="1084.4" r="45" fill="rgba(255,235,59,0.2)" stroke="#2a2a2a" stroke-width="1.2"/>
<circle cx="1336.5" cy="1071.8" r="43.2" fill="rgba(255,235,59,0.2)" stroke="#2a2a2a" stroke-width="1.2"/>
<circle cx="2154.4" cy="1103" r="45" fill="rgba(255,235,59,0.2)" stroke="#2a2a2a" stroke-width="1.2"/>
<circle cx="2725.1" cy="1077.1" r="42.6" fill="rgba(255,235,59,0.2)" stroke="#2a2a2a" stroke-width="1.2"/>
<circle cx="2757.3" cy="954.7" r="27.5" fill="rgba(255,235,59,0.2)" stroke="#000" stroke-width="3.5"/>
<rect x="522.7" y="772.9" width="842.1" height="38.8" fill="#fff" stroke="#000" stroke-width="2"/>
<text x="529.7" y="802.0" font-size="29.5" fill="#e65100" font-weight="normal" font-style="normal" text-anchor="start" textLength="828.0" lengthAdjust="spacingAndGlyphs" >Custom 7 year Stoch Indicator ""Fuel for Precious Metals &amp; Miners"</text>
<path d="M2531.3,769.1 H3094.9 Q3104.9,769.1 3104.9,779.1 V821.1 Q3104.9,831.1 3094.9,831.1 H2821.5 L2781,907.3 L2803.7,831.1 H2531.3 Q2521.3,831.1 2521.3,821.1 V779.1 Q2521.3,769.1 2531.3,769.1 Z" fill="#fff" stroke="#000" stroke-width="2" stroke-linejoin="round"/>
<text x="2534.0" y="811.5" font-size="39" fill="#f23645" font-weight="normal" font-style="normal" text-anchor="start" textLength="558.6" lengthAdjust="spacingAndGlyphs" stroke="#f23645" stroke-width="0.5">bullish continuation in progress</text>
<text x="14.9" y="785.2" font-size="11.6" fill="#131722" font-weight="normal" font-style="normal" text-anchor="start" textLength="85.3" lengthAdjust="spacingAndGlyphs" >Stoch (84, 3, 3)</text>
<g clip-path="url(#cp)">
<path d="M6.9,275.8 C12.1,275.3 29.7,273.9 38.1,272.7 C46.5,271.6 48.9,270.9 57.2,268.9 C65.4,266.9 78.1,261.7 87.7,260.5 C97.2,259.3 104.8,261.2 114.3,261.7 C123.9,262.1 135.3,262.9 144.8,263.2 C154.3,263.5 162.6,261.8 171.5,263.6 C180.4,265.3 189.3,270.6 198.2,273.9 C207.1,277.2 217.2,279.3 224.8,283.4 C232.5,287.5 237.6,292.9 243.9,298.6 C250.3,304.3 256.0,310.7 263.0,317.7 C269.9,324.7 278.8,334.5 285.8,340.5 C292.8,346.6 299.5,350.4 304.9,353.9 C310.3,357.4 313.8,359.1 318.2,361.5 C322.7,363.9 327.4,367.7 331.6,368.4 C335.7,369.0 339.5,367.7 343.0,365.3 C346.5,362.9 348.7,357.4 352.5,353.9 C356.3,350.4 362.4,347.9 365.9,344.4 C369.3,340.9 369.7,336.4 373.5,332.9 C377.3,329.4 383.6,327.8 388.7,323.4 C393.8,319.0 398.9,311.6 404.0,306.2 C409.0,300.9 414.9,295.3 419.2,291.0 C423.5,286.7 425.3,284.7 430.0,280.7 C434.7,276.6 441.5,270.8 447.3,266.8 C453.1,262.9 457.9,259.9 464.6,256.7 C471.3,253.6 481.4,251.0 487.7,248.1 C493.9,245.2 498.2,241.6 502.1,239.5 C505.9,237.3 506.9,236.1 510.7,235.1 C514.6,234.2 519.4,233.4 525.1,233.7 C530.9,233.9 540.5,235.6 545.3,236.6 C550.1,237.5 550.6,239.5 554.0,239.5 C557.3,239.5 560.2,237.2 565.5,236.6 C570.8,235.9 578.5,235.7 585.7,235.7 C592.9,235.7 601.0,237.2 608.7,236.6 C616.4,235.9 625.1,233.1 631.8,231.7 C638.5,230.2 642.8,229.2 649.1,227.9 C655.3,226.7 662.5,224.0 669.3,224.2 C676.0,224.3 683.2,227.4 689.4,228.8 C695.7,230.1 700.0,230.7 706.7,232.2 C713.5,233.8 722.1,236.1 729.8,238.0 C737.5,239.9 745.2,241.1 752.9,243.8 C760.5,246.4 771.8,252.2 775.9,253.9 C780.1,255.5 774.1,251.7 777.7,253.8 C781.3,255.8 792.5,262.8 797.4,266.1 C802.4,269.4 802.4,271.1 807.3,273.5 C812.3,276.0 819.7,277.7 827.1,281.0 C834.5,284.3 843.6,289.2 851.8,293.3 C860.0,297.4 868.5,302.6 876.5,305.7 C884.5,308.8 891.0,307.8 900.0,311.8 C909.0,315.9 923.0,325.5 930.5,330.0 C938.0,334.5 939.2,334.3 944.9,338.6 C950.7,343.0 958.4,349.7 965.1,355.9 C971.9,362.2 977.6,369.2 985.3,376.1 C993.0,383.1 1002.6,391.5 1011.3,397.7 C1019.9,404.0 1029.0,407.8 1037.2,413.6 C1045.4,419.4 1052.6,426.1 1060.3,432.3 C1067.9,438.6 1075.6,444.6 1083.3,451.1 C1091.0,457.6 1099.7,466.0 1106.4,471.3 C1113.1,476.5 1116.9,479.7 1123.7,482.8 C1130.4,485.9 1139.5,487.6 1146.7,490.0 C1153.9,492.4 1160.7,494.8 1166.9,497.2 C1173.2,499.6 1178.4,501.0 1184.2,504.4 C1190.0,507.8 1195.3,513.3 1201.5,517.4 C1207.8,521.5 1214.5,525.8 1221.7,528.9 C1228.9,532.0 1236.6,532.7 1244.7,536.1 C1252.9,539.5 1263.0,546.0 1270.7,549.1 C1278.4,552.2 1284.3,553.1 1290.9,554.8 C1297.4,556.6 1303.1,557.4 1310.0,559.4 C1316.9,561.3 1323.9,564.7 1332.2,566.3 C1340.6,567.9 1351.7,568.9 1360.0,569.1 C1368.4,569.3 1375.3,569.3 1382.3,567.7 C1389.2,566.1 1396.2,563.3 1401.7,559.4 C1407.3,555.4 1411.5,548.2 1415.6,544.1 C1419.8,539.9 1423.1,540.8 1426.8,534.3 C1430.5,527.9 1434.2,514.2 1437.9,505.1 C1441.6,496.1 1445.3,489.2 1449.0,480.1 C1452.7,471.1 1456.0,459.0 1460.1,450.9 C1464.3,442.8 1468.9,437.0 1474.0,431.5 C1479.1,425.9 1485.6,421.3 1490.7,417.6 C1495.8,413.9 1500.0,412.5 1504.6,409.2 C1509.2,406.0 1513.9,402.1 1518.5,398.1 C1523.1,394.2 1527.3,391.2 1532.4,385.6 C1537.5,380.0 1544.3,370.9 1549.1,364.8 C1553.9,358.6 1556.9,353.6 1561.2,348.5 C1565.6,343.5 1571.0,341.1 1575.1,334.6 C1579.3,328.2 1582.1,318.4 1586.3,309.6 C1590.4,300.8 1596.0,288.8 1600.2,281.8 C1604.3,274.9 1606.7,271.9 1611.3,267.9 C1615.9,264.0 1622.4,260.7 1628.0,258.2 C1633.5,255.6 1639.1,255.3 1644.6,252.6 C1650.2,250.0 1655.8,245.4 1661.3,242.3 C1666.9,239.3 1674.9,235.9 1678.0,234.6 C1681.1,233.3 1677.3,235.3 1680.0,234.6 C1682.7,233.9 1689.6,231.7 1694.4,230.3 C1699.2,228.8 1704.0,226.6 1708.8,226.0 C1713.6,225.4 1718.5,226.2 1723.3,226.7 C1728.1,227.2 1732.9,227.6 1737.7,228.8 C1742.5,230.0 1748.0,232.0 1752.1,233.9 C1756.2,235.8 1759.3,237.6 1762.2,240.4 C1765.1,243.1 1766.8,247.1 1769.4,250.5 C1772.0,253.8 1775.7,257.2 1778.1,260.6 C1780.5,263.9 1780.9,267.4 1783.8,270.7 C1786.7,273.9 1791.8,277.1 1795.4,280.0 C1799.0,282.9 1802.3,285.4 1805.5,288.0 C1808.6,290.5 1810.0,291.8 1814.1,295.2 C1818.2,298.5 1825.4,303.8 1830.0,308.1 C1834.5,312.5 1837.7,317.4 1841.5,321.1 C1845.3,324.8 1848.2,326.5 1853.0,330.5 C1857.9,334.5 1865.9,341.2 1870.7,345.3 C1875.5,349.4 1877.6,352.1 1881.8,355.1 C1886.0,358.1 1889.2,359.2 1895.7,363.4 C1902.2,367.6 1914.2,376.1 1920.7,380.1 C1927.2,384.0 1930.0,384.7 1934.6,387.0 C1939.2,389.4 1943.4,391.2 1948.5,394.0 C1953.6,396.8 1960.6,400.2 1965.2,403.7 C1969.8,407.2 1972.1,411.1 1976.3,414.8 C1980.5,418.5 1977.0,415.1 1990.2,426.0 C2003.4,436.8 2042.4,468.9 2055.6,480.0 C2068.8,491.1 2064.9,488.3 2069.5,492.5 C2074.1,496.7 2077.8,499.7 2083.4,505.0 C2089.0,510.3 2097.3,518.5 2102.9,524.5 C2108.4,530.5 2112.1,535.8 2116.8,541.2 C2121.4,546.5 2126.5,551.4 2130.7,556.5 C2134.8,561.5 2137.6,566.2 2141.8,571.7 C2146.0,577.3 2151.5,584.5 2155.7,589.8 C2159.9,595.1 2163.1,599.5 2166.8,603.7 C2170.5,607.9 2173.8,611.8 2177.9,614.8 C2182.1,617.8 2187.2,619.5 2191.8,621.8 C2196.5,624.1 2201.1,627.0 2205.7,628.7 C2210.4,630.5 2214.5,632.1 2219.6,632.3 C2224.7,632.6 2230.7,631.4 2236.3,630.1 C2241.9,628.8 2247.9,627.1 2253.0,624.6 C2258.1,622.0 2262.3,618.5 2266.9,614.8 C2271.5,611.1 2276.2,605.8 2280.8,602.3 C2285.4,598.8 2290.1,597.0 2294.7,594.0 C2299.3,591.0 2304.0,588.4 2308.6,584.3 C2313.2,580.1 2318.2,574.5 2322.5,569.0 C2326.8,563.4 2330.6,556.6 2334.5,550.7 C2338.3,544.9 2341.4,539.4 2345.6,534.1 C2349.8,528.7 2354.9,523.9 2359.5,518.8 C2364.1,513.7 2368.8,508.4 2373.4,503.5 C2378.0,498.6 2382.7,494.2 2387.3,489.6 C2391.9,485.0 2396.6,480.8 2401.2,475.7 C2405.8,470.6 2410.5,464.1 2415.1,459.0 C2419.7,453.9 2424.8,448.8 2429.0,445.1 C2433.2,441.4 2435.5,439.3 2440.1,436.8 C2444.8,434.2 2451.7,431.7 2456.8,429.8 C2461.9,428.0 2466.1,426.6 2470.7,425.6 C2475.3,424.7 2479.5,424.3 2484.6,424.3 C2489.7,424.2 2496.7,424.6 2501.3,425.1 C2505.9,425.6 2508.2,425.6 2512.4,427.0 C2516.6,428.5 2521.7,431.9 2526.3,434.0 C2530.9,436.1 2535.6,437.2 2540.2,439.5 C2544.8,441.9 2549.5,445.1 2554.1,447.9 C2558.7,450.7 2563.4,453.0 2568.0,456.2 C2572.6,459.5 2578.2,463.6 2581.9,467.3 C2585.6,471.1 2586.5,473.8 2590.3,478.5 C2594.0,483.1 2600.0,490.7 2604.2,495.1 C2608.3,499.5 2612.6,502.4 2615.3,504.9 C2617.9,507.3 2618.3,508.0 2620.0,509.8 C2621.7,511.5 2623.4,514.0 2625.8,515.5 C2628.2,517.1 2631.1,517.9 2634.4,519.1 C2637.8,520.3 2642.1,521.3 2646.0,522.7 C2649.8,524.2 2653.7,526.2 2657.5,527.8 C2661.3,529.4 2665.2,530.9 2669.0,532.1 C2672.9,533.3 2676.7,534.2 2680.6,535.0 C2684.4,535.8 2688.3,536.3 2692.1,537.2 C2696.0,538.0 2699.8,539.1 2703.7,540.1 C2707.5,541.0 2711.4,542.1 2715.2,542.9 C2719.0,543.8 2722.9,544.4 2726.7,545.1 C2730.6,545.8 2734.4,546.8 2738.3,547.3 C2742.1,547.7 2746.4,548.0 2749.8,548.0 C2753.2,548.0 2755.6,547.7 2758.5,547.3 C2761.4,546.8 2764.4,545.8 2767.1,545.1 C2769.8,544.4 2773.4,543.3 2774.6,542.9" fill="none" stroke="#f05a68" stroke-width="2.8" stroke-linejoin="round" stroke-linecap="round"/>
<path d="M6.9,244.5 L13.3,249.8 L17.1,260.5 L19.8,258.6 L22.9,272.0 L25.9,288.0 L28.6,277.7 L31.2,288.0 L34.3,279.6 L38.1,273.9 L41.9,260.5 L47.6,258.6 L51.4,245.3 L54.1,233.1 L57.2,236.9 L61.0,233.8 L64.8,231.9 L67.8,226.2 L70.9,224.3 L74.3,230.0 L78.1,237.7 L81.9,247.2 L85.7,251.0 L89.6,258.6 L92.2,270.0 L95.3,268.1 L99.1,277.7 L102.9,273.9 L106.7,278.8 L110.5,281.5 L113.6,286.4 L116.2,272.0 L120.0,264.3 L123.9,262.4 L126.9,260.5 L131.5,264.3 L134.1,275.8 L137.2,270.0 L141.0,268.1 L144.8,275.8 L146.7,273.9 L148.6,281.5 L152.4,283.4 L154.3,281.5 L156.2,298.6 L160.1,304.3 L163.9,301.7 L167.7,306.2 L171.5,310.1 L175.3,317.7 L179.1,323.4 L182.9,327.2 L186.0,336.7 L188.6,329.1 L192.5,320.7 L196.3,331.0 L200.1,336.7 L203.9,342.5 L207.7,346.3 L211.5,347.4 L215.3,350.1 L219.1,355.8 L222.9,365.3 L226.8,372.9 L230.6,384.4 L234.4,390.1 L238.2,388.2 L242.0,399.6 L245.8,411.1 L249.6,406.1 L251.5,416.8 L255.3,424.4 L259.1,430.1 L261.1,443.4 L263.0,454.9 L266.8,453.0 L270.6,454.9 L272.5,451.1 L274.4,462.5 L278.2,489.2 L282.0,454.9 L285.1,421.3 L289.6,432.0 L293.4,443.4 L296.5,450.3 L299.2,439.6 L301.1,420.6 L303.0,416.8 L304.9,401.5 L306.8,393.9 L308.7,386.3 L312.5,374.8 L314.4,365.3 L317.1,380.6 L319.4,363.4 L322.0,355.8 L323.9,338.6 L326.2,348.2 L327.7,329.1 L330.8,340.5 L333.5,289.1 L335.4,279.6 L337.3,275.8 L339.2,249.1 L343.0,264.3 L344.9,247.2 L346.8,233.8 L350.6,161.4 L352.5,161.4 L356.3,266.2 L360.1,230.0 L363.9,226.2 L365.9,231.9 L369.7,161.4 L371.6,165.2 L375.4,245.3 L379.2,270.0 L381.1,260.5 L383.0,272.0 L386.8,237.7 L390.6,254.8 L394.4,224.3 L398.2,216.7 L402.1,205.3 L405.9,186.2 L409.7,191.9 L413.5,201.4 L417.3,191.9 L423.0,182.4 L426.8,199.5 L430.0,215.5 L432.9,223.6 L435.8,229.4 L438.6,243.8 L441.5,251.0 L445.9,266.8 L448.7,275.5 L450.8,263.4 L453.1,271.2 L457.4,284.1 L460.3,288.5 L462.3,288.5 L464.6,300.0 L467.5,300.0 L470.4,305.8 L473.2,307.2 L475.5,297.1 L476.7,291.3 L479.0,289.9 L481.3,281.8 L483.3,295.7 L485.3,288.5 L487.7,269.7 L490.0,249.5 L492.0,226.5 L494.0,219.3 L496.3,217.8 L498.6,229.4 L501.2,181.8 L502.9,204.9 L504.9,196.2 L507.3,235.1 L509.3,240.9 L512.2,242.3 L515.9,255.3 L517.9,251.0 L519.9,255.3 L522.2,246.7 L524.6,249.5 L526.6,226.5 L529.5,225.0 L530.9,235.1 L532.9,225.0 L535.2,240.9 L537.2,229.4 L539.5,252.4 L542.4,252.4 L545.3,245.2 L548.2,246.7 L551.1,247.2 L554.8,247.2 L556.8,201.1 L559.1,214.9 L562.6,220.7 L565.5,226.5 L568.4,230.8 L571.3,223.6 L574.1,213.5 L577.6,212.1 L579.9,202.0 L582.8,203.4 L587.1,220.1 L590.0,217.8 L592.9,206.3 L597.2,190.4 L600.1,193.3 L603.0,184.7 L606.4,169.4 L609.3,180.4 L613.0,186.1 L615.9,191.9 L618.8,202.0 L621.7,203.4 L624.6,214.9 L627.5,226.5 L630.3,238.0 L633.2,240.9 L637.0,249.0 L639.9,242.3 L642.7,245.2 L645.6,239.5 L647.9,230.8 L650.5,240.9 L654.8,242.3 L657.7,243.8 L660.6,251.0 L663.5,257.6 L666.4,253.9 L672.1,255.9 L675.0,261.1 L677.9,262.5 L679.4,268.3 L681.7,261.1 L683.7,275.5 L686.6,276.9 L690.9,274.0 L693.8,284.1 L696.6,292.8 L699.5,300.0 L703.3,313.0 L706.2,301.4 L709.0,310.1 L711.9,318.7 L713.9,313.0 L716.8,308.6 L719.7,289.9 L721.7,276.9 L724.6,274.0 L726.9,281.3 L729.8,284.1 L732.7,279.8 L737.0,272.0 L739.0,274.0 L741.9,285.6 L744.8,281.3 L747.1,279.8 L750.0,278.4 L752.9,281.3 L755.7,272.6 L758.0,264.5 L760.9,281.3 L764.4,295.7 L767.3,287.0 L770.2,285.6 L773.0,284.1 L775.3,294.2 L777.4,275.5 L779.4,285.6 L781.7,294.2 L784.6,291.3 L787.5,289.9 L790.9,283.6 L793.2,291.3 L797.5,298.5 L801.9,304.3 L804.7,311.5 L807.6,300.0 L812.0,301.4 L815.7,315.8 L819.2,307.2 L822.6,314.4 L825.5,321.6 L829.3,324.5 L832.1,340.3 L835.9,338.9 L839.3,345.2 L843.7,335.4 L846.5,344.7 L848.6,352.7 L852.3,349.9 L855.2,350.4 L858.1,356.2 L861.0,359.1 L863.8,353.3 L866.7,359.1 L870.0,366.0 L872.9,363.2 L876.3,361.7 L879.2,366.0 L883.0,373.8 L885.9,370.4 L888.7,364.6 L891.6,361.1 L895.4,360.3 L897.4,357.4 L898.8,360.3 L901.1,351.6 L903.2,358.8 L906.0,361.7 L908.9,363.2 L911.8,370.4 L914.7,373.2 L917.6,383.3 L920.4,387.7 L922.8,390.5 L924.8,397.7 L926.8,393.4 L929.1,404.9 L931.1,406.4 L933.4,416.5 L936.3,422.2 L939.2,426.6 L942.1,426.6 L944.9,432.3 L946.4,438.1 L949.3,454.0 L952.2,454.0 L955.0,452.5 L956.5,462.6 L959.4,456.8 L962.2,462.6 L965.1,465.5 L967.1,474.1 L969.5,471.3 L971.5,462.6 L973.8,466.9 L976.1,477.0 L978.1,468.4 L980.1,462.6 L983.0,462.0 L985.3,466.9 L988.2,459.7 L991.1,455.4 L994.0,459.7 L996.8,469.8 L1001.2,471.3 L1004.0,456.8 L1006.9,448.2 L1011.3,441.8 L1014.1,446.7 L1017.0,445.3 L1019.9,452.5 L1022.8,456.8 L1025.7,462.6 L1028.0,469.8 L1031.4,474.1 L1035.8,488.5 L1038.6,495.8 L1043.0,495.8 L1046.4,504.4 L1049.3,505.8 L1053.0,510.2 L1055.9,504.4 L1058.8,500.1 L1061.7,504.4 L1063.7,508.7 L1066.0,497.2 L1069.5,495.8 L1071.8,492.9 L1074.1,497.2 L1077.0,500.1 L1079.0,496.6 L1081.0,500.1 L1082.7,491.4 L1085.6,486.5 L1088.5,497.2 L1091.4,511.6 L1094.8,521.7 L1099.2,525.4 L1102.1,523.1 L1104.9,528.9 L1107.8,526.0 L1110.7,531.8 L1112.1,528.9 L1115.6,538.1 L1118.5,534.1 L1121.4,534.7 L1124.3,526.0 L1126.6,508.7 L1128.9,494.3 L1130.9,503.0 L1133.8,500.1 L1136.6,499.5 L1138.7,511.6 L1141.0,517.4 L1143.9,520.3 L1146.7,526.0 L1149.0,531.8 L1152.5,536.1 L1155.4,534.7 L1158.3,541.9 L1162.6,540.4 L1165.5,544.8 L1169.8,552.0 L1175.6,557.7 L1179.9,560.6 L1184.2,564.9 L1187.1,562.1 L1190.0,566.4 L1194.3,567.0 L1198.0,571.6 L1201.5,569.3 L1203.8,574.5 L1207.3,566.4 L1210.2,570.7 L1214.5,580.8 L1218.8,580.2 L1223.1,580.2 L1226.0,577.9 L1228.9,575.0 L1230.9,568.7 L1234.7,563.5 L1236.7,552.0 L1239.0,550.5 L1241.9,556.3 L1244.7,557.7 L1247.6,566.4 L1250.5,572.1 L1253.4,582.2 L1256.3,577.9 L1259.2,580.8 L1262.6,586.6 L1265.5,583.1 L1268.4,588.0 L1271.3,583.7 L1274.2,579.4 L1277.0,573.6 L1280.8,571.6 L1282.8,567.8 L1286.5,570.7 L1290.3,576.5 L1293.8,583.7 L1296.1,586.6 L1298.1,573.6 L1301.0,566.4 L1303.0,559.2 L1305.3,563.5 L1308.7,560.6 L1310.0,560.7 L1312.2,552.4 L1314.2,556.6 L1316.1,558.0 L1317.8,564.9 L1320.6,573.3 L1323.1,580.2 L1325.3,571.9 L1328.1,576.0 L1330.0,574.6 L1332.2,552.4 L1333.6,549.6 L1335.9,538.5 L1337.8,544.1 L1339.7,552.4 L1342.0,555.2 L1343.9,552.4 L1346.1,558.0 L1348.1,562.1 L1350.3,569.1 L1353.1,571.9 L1355.9,574.6 L1358.7,578.8 L1360.6,571.9 L1362.8,560.7 L1364.2,554.6 L1365.6,562.1 L1368.4,555.2 L1371.2,549.6 L1373.4,546.8 L1375.3,560.2 L1377.3,551.0 L1380.1,552.4 L1382.8,551.0 L1385.1,532.9 L1386.5,510.7 L1388.4,499.6 L1390.1,494.6 L1392.0,502.4 L1394.0,507.9 L1396.7,510.7 L1398.4,520.4 L1401.2,519.0 L1403.1,513.5 L1404.5,485.7 L1405.1,463.4 L1407.3,455.1 L1409.5,448.2 L1410.6,421.7 L1412.3,402.3 L1414.3,390.6 L1416.2,402.3 L1418.4,416.2 L1420.6,432.9 L1423.1,435.6 L1424.5,413.4 L1426.8,396.7 L1429.0,366.1 L1430.1,343.9 L1431.5,330.0 L1432.8,316.6 L1435.6,313.8 L1438.4,319.4 L1440.3,331.9 L1442.3,304.1 L1444.5,284.6 L1446.1,273.5 L1447.8,281.8 L1450.0,262.4 L1452.8,251.2 L1454.8,279.0 L1458.4,290.2 L1461.2,311.0 L1463.9,315.2 L1466.2,323.5 L1468.7,306.8 L1470.9,318.0 L1472.8,331.9 L1475.6,343.0 L1477.8,344.4 L1480.1,359.9 L1482.4,371.7 L1484.6,380.0 L1487.9,380.0 L1490.7,385.6 L1493.5,396.7 L1496.3,419.0 L1499.0,396.7 L1501.8,375.9 L1504.6,380.0 L1507.4,374.5 L1509.6,353.6 L1511.6,348.1 L1515.2,350.9 L1518.0,359.2 L1520.7,353.6 L1523.5,343.9 L1525.5,330.0 L1526.5,324.9 L1529.3,329.1 L1531.2,323.5 L1533.4,309.6 L1535.7,294.3 L1537.6,304.1 L1539.0,323.5 L1541.2,309.6 L1543.2,309.6 L1544.6,304.1 L1546.8,297.1 L1548.7,298.5 L1550.1,284.6 L1552.1,260.1 L1553.7,297.1 L1555.7,273.5 L1558.5,273.5 L1560.7,258.2 L1562.6,272.1 L1564.6,270.7 L1566.2,259.6 L1567.6,245.7 L1569.6,248.5 L1571.8,242.9 L1574.3,234.6 L1575.7,201.2 L1577.9,195.6 L1580.2,184.5 L1582.1,156.7 L1583.5,116.4 L1586.3,134.5 L1589.0,151.2 L1591.3,156.7 L1593.2,140.0 L1595.2,126.1 L1597.4,140.0 L1599.6,137.3 L1602.1,134.5 L1604.3,151.2 L1607.1,170.6 L1609.1,179.0 L1610.7,190.1 L1612.7,198.4 L1614.6,194.3 L1616.8,201.2 L1619.6,204.0 L1622.4,222.1 L1625.2,206.8 L1628.0,195.6 L1630.7,209.5 L1633.0,220.1 L1634.9,220.7 L1637.7,224.8 L1639.9,233.2 L1642.7,238.7 L1646.0,241.5 L1648.8,217.9 L1651.6,209.5 L1654.4,215.1 L1655.8,224.8 L1658.5,223.4 L1659.9,220.7 L1661.9,206.2 L1663.6,240.1 L1666.3,248.5 L1669.1,255.4 L1671.9,265.1 L1674.7,262.4 L1676.9,261.0 L1679.4,270.7 L1682.2,278.5 L1684.1,270.7 L1686.3,277.7 L1689.1,265.1 L1691.4,267.9 L1693.3,274.9 L1695.2,267.9 L1697.5,258.2 L1700.3,270.7 L1703.0,290.2 L1706.4,297.1 L1709.1,301.3 L1711.4,312.4 L1713.6,324.9 L1716.4,341.6 L1718.3,319.4 L1721.1,323.5 L1724.7,334.6 L1727.5,323.5 L1730.8,320.7 L1733.6,326.3 L1735.8,334.6 L1737.8,337.4 L1739.7,334.6 L1740.0,332.8 L1742.2,352.3 L1744.2,362.0 L1746.1,354.5 L1748.3,359.2 L1750.6,364.2 L1752.5,345.3 L1754.5,344.5 L1757.2,315.6 L1759.5,332.8 L1761.7,341.2 L1763.6,332.8 L1765.6,349.5 L1767.8,359.2 L1770.0,357.3 L1772.8,342.6 L1775.6,346.7 L1777.5,352.8 L1779.5,353.7 L1781.7,363.4 L1783.6,357.8 L1785.0,321.7 L1787.3,290.6 L1789.5,305.0 L1791.7,321.7 L1793.9,338.4 L1795.6,324.5 L1798.4,325.9 L1800.6,324.5 L1802.6,339.8 L1804.5,340.6 L1806.7,332.8 L1808.9,353.7 L1810.9,352.3 L1813.1,344.5 L1815.1,355.1 L1817.3,370.4 L1820.1,369.5 L1822.0,374.5 L1824.2,389.8 L1826.2,396.8 L1828.4,391.2 L1830.4,400.9 L1833.1,412.9 L1835.9,406.5 L1838.7,388.4 L1840.6,396.2 L1844.3,379.5 L1846.2,384.3 L1848.4,400.9 L1850.6,399.5 L1853.4,417.6 L1856.2,410.7 L1859.0,387.0 L1860.9,371.2 L1863.7,385.6 L1866.5,389.0 L1869.3,407.9 L1872.1,419.0 L1874.8,427.3 L1877.6,428.7 L1879.8,420.4 L1882.3,426.0 L1885.1,438.5 L1887.9,431.5 L1890.7,421.2 L1892.3,446.8 L1894.6,441.2 L1898.5,445.4 L1901.2,453.8 L1904.0,453.8 L1906.8,446.8 L1909.6,448.2 L1912.4,449.6 L1915.1,456.5 L1917.9,463.5 L1923.5,469.0 L1926.3,463.5 L1929.0,448.2 L1931.8,446.8 L1934.1,433.5 L1936.0,455.1 L1938.8,460.7 L1941.6,457.4 L1945.2,449.6 L1947.1,456.5 L1949.1,448.2 L1951.3,440.7 L1953.5,449.0 L1956.3,444.0 L1958.2,442.6 L1961.0,449.6 L1963.8,444.0 L1966.6,451.0 L1969.4,448.2 L1972.1,455.1 L1974.9,460.7 L1977.7,462.1 L1980.5,469.0 L1984.1,476.0 L1987.4,482.9 L1990.2,487.1 L1993.5,491.3 L1996.3,492.7 L1999.1,495.5 L2000.0,495.3 L2002.8,500.9 L2005.6,505.0 L2008.3,507.8 L2010.6,513.4 L2012.5,501.7 L2014.5,506.4 L2016.1,516.1 L2018.1,521.7 L2019.5,528.7 L2021.7,537.0 L2022.8,538.4 L2024.5,555.1 L2026.4,549.5 L2028.6,546.7 L2030.0,560.6 L2032.0,563.4 L2033.9,569.0 L2035.6,577.3 L2037.5,596.8 L2039.5,591.2 L2041.1,594.0 L2043.1,592.6 L2044.5,605.1 L2046.7,613.4 L2049.5,620.4 L2051.4,624.6 L2053.4,635.7 L2055.0,637.1 L2057.0,632.9 L2058.9,637.1 L2061.2,641.2 L2063.4,645.4 L2065.3,631.5 L2067.3,630.1 L2069.5,638.5 L2071.7,646.8 L2073.7,655.1 L2075.6,663.5 L2077.3,670.4 L2079.2,666.3 L2081.2,674.6 L2083.4,678.8 L2085.6,687.1 L2088.1,696.8 L2090.4,695.5 L2091.7,694.1 L2094.0,662.1 L2095.9,671.8 L2097.9,680.2 L2099.5,692.7 L2102.3,685.7 L2105.1,677.4 L2107.0,701.0 L2109.8,696.8 L2112.6,691.3 L2115.4,694.1 L2118.2,703.8 L2120.1,696.8 L2122.3,701.0 L2124.5,685.7 L2126.5,685.2 L2129.3,694.1 L2131.2,677.4 L2133.4,671.8 L2135.7,678.8 L2138.4,677.4 L2141.2,671.8 L2143.2,659.3 L2145.1,641.2 L2146.2,631.5 L2148.7,644.0 L2150.7,657.9 L2153.5,652.4 L2155.7,645.4 L2157.9,641.2 L2159.9,635.7 L2161.2,627.3 L2163.5,619.0 L2165.4,607.9 L2167.4,600.9 L2169.0,602.3 L2170.7,592.6 L2172.4,574.5 L2174.6,588.4 L2176.5,600.9 L2177.9,580.1 L2180.2,560.6 L2182.9,566.2 L2184.9,571.7 L2186.8,585.6 L2189.0,582.9 L2191.3,594.0 L2193.2,591.2 L2195.2,585.6 L2197.9,578.7 L2199.6,585.6 L2202.4,584.3 L2204.3,588.4 L2206.3,594.0 L2208.5,596.8 L2210.5,589.8 L2211.8,582.9 L2213.5,596.8 L2216.8,596.8 L2219.6,591.2 L2222.4,584.3 L2225.2,582.9 L2228.5,579.5 L2230.2,591.2 L2233.5,592.6 L2235.8,592.6 L2238.5,584.3 L2240.5,589.8 L2242.4,588.4 L2244.6,596.8 L2247.4,589.8 L2249.7,580.1 L2252.4,578.7 L2255.2,569.0 L2257.2,557.8 L2259.9,555.1 L2262.7,543.9 L2265.5,534.2 L2268.3,537.0 L2271.1,539.8 L2273.8,549.5 L2276.6,556.5 L2279.4,553.7 L2282.2,550.9 L2283.6,553.7 L2286.3,545.3 L2289.1,549.5 L2290.0,550.7 L2292.2,553.5 L2294.2,560.5 L2297.0,550.7 L2298.9,550.7 L2301.1,539.6 L2303.3,529.9 L2305.8,525.7 L2308.1,514.6 L2310.0,486.8 L2311.7,472.3 L2313.6,481.2 L2315.9,496.5 L2318.4,496.5 L2320.6,474.3 L2322.8,475.7 L2324.8,492.4 L2326.1,478.5 L2328.4,468.7 L2330.3,436.8 L2333.1,425.6 L2334.5,409.0 L2335.9,389.5 L2337.8,377.8 L2340.0,400.6 L2342.0,417.3 L2343.7,409.0 L2345.6,415.9 L2348.4,424.3 L2351.2,431.2 L2353.4,424.3 L2356.7,407.6 L2358.9,417.3 L2360.9,418.7 L2362.8,417.3 L2365.6,427.0 L2368.4,410.4 L2372.0,388.1 L2374.2,406.2 L2377.0,390.9 L2379.5,395.1 L2382.3,392.8 L2385.1,400.6 L2387.9,413.1 L2390.6,408.4 L2393.4,397.3 L2397.0,397.8 L2399.3,386.7 L2401.2,370.0 L2403.4,352.8 L2406.2,364.5 L2408.2,363.1 L2410.1,382.6 L2412.3,372.8 L2414.3,375.6 L2416.5,386.7 L2418.4,390.9 L2421.2,389.5 L2424.0,392.3 L2426.2,390.9 L2429.0,386.7 L2431.2,385.3 L2434.6,388.1 L2437.3,395.1 L2440.1,406.2 L2442.3,411.7 L2444.3,417.3 L2446.2,436.8 L2447.9,450.7 L2449.9,463.2 L2452.1,459.0 L2453.5,450.7 L2455.4,446.5 L2457.6,460.4 L2460.1,474.3 L2462.4,491.0 L2464.6,482.6 L2467.1,477.1 L2469.3,479.9 L2471.3,482.6 L2473.5,489.6 L2475.7,485.4 L2477.7,489.6 L2480.4,496.5 L2483.2,503.5 L2485.2,511.8 L2487.4,514.6 L2489.6,503.5 L2490.7,493.8 L2492.4,511.8 L2495.7,513.2 L2499.1,514.6 L2501.8,516.0 L2503.5,528.5 L2505.5,511.8 L2508.2,511.8 L2510.2,520.2 L2513.0,531.3 L2515.7,517.4 L2518.0,503.5 L2519.4,493.8 L2522.1,504.9 L2524.9,497.9 L2526.3,510.4 L2528.5,497.4 L2531.3,503.5 L2534.1,503.5 L2537.4,504.9 L2539.7,522.9 L2542.4,525.7 L2545.8,525.7 L2549.9,525.7 L2552.7,528.0 L2555.5,531.3 L2558.3,525.7 L2561.1,535.5 L2563.8,539.6 L2566.6,542.4 L2569.4,539.6 L2572.2,536.8 L2574.1,535.5 L2576.3,539.6 L2579.1,550.7 L2581.9,560.5 L2584.7,568.8 L2586.9,561.9 L2588.9,554.9 L2590.3,556.3 L2593.0,532.7 L2595.8,542.4 L2598.6,550.7 L2600.8,557.7 L2602.8,546.6 L2604.7,544.6 L2606.9,543.8 L2609.2,539.6 L2611.1,529.9 L2613.0,538.2 L2615.3,536.8 L2617.5,546.6 L2619.4,545.2 L2620.0,543.7 L2621.4,535.0 L2622.9,520.6 L2624.0,509.0 L2625.0,502.6 L2626.5,509.0 L2627.9,513.4 L2629.8,514.1 L2631.5,510.5 L2633.0,507.6 L2634.0,504.0 L2635.1,510.5 L2636.6,515.5 L2638.0,516.3 L2639.0,513.4 L2640.2,512.6 L2641.3,527.8 L2642.1,538.6 L2643.8,535.0 L2645.7,534.3 L2647.4,538.6 L2648.6,546.5 L2650.3,558.1 L2652.0,563.1 L2653.5,561.0 L2654.9,552.3 L2656.1,561.0 L2657.2,567.5 L2658.9,568.2 L2660.4,568.9 L2661.8,572.5 L2663.3,569.6 L2664.7,571.8 L2665.9,579.0 L2667.6,579.0 L2669.8,580.4 L2671.6,577.6 L2673.1,573.9 L2674.1,565.3 L2675.1,558.8 L2676.5,561.7 L2677.7,556.6 L2679.1,550.1 L2680.6,555.2 L2681.7,548.0 L2683.0,543.7 L2684.2,552.3 L2685.6,561.7 L2687.1,561.7 L2688.5,555.2 L2690.2,548.7 L2691.4,559.5 L2692.1,563.9 L2693.8,559.5 L2695.0,552.3 L2696.4,543.7 L2697.9,544.4 L2699.3,546.5 L2700.8,549.4 L2702.2,545.1 L2703.7,542.9 L2705.1,543.7 L2706.5,546.5 L2708.0,553.8 L2709.0,561.0 L2710.9,561.7 L2713.0,561.0 L2715.5,560.2 L2716.9,550.9 L2718.1,545.8 L2719.2,552.3 L2721.0,556.6 L2722.7,561.0 L2724.6,566.0 L2726.7,572.5 L2728.5,563.9 L2729.9,556.6 L2731.1,552.3 L2732.5,554.5 L2733.9,559.5 L2735.4,561.7 L2736.8,557.4 L2738.6,555.9 L2740.4,555.2 L2741.9,549.4 L2743.8,542.5 L2744.8,548.0 L2746.2,556.6 L2747.2,556.6 L2749.1,552.3 L2751.0,545.1 L2752.4,538.6 L2753.9,527.8 L2755.3,516.3 L2756.7,507.9 L2758.2,514.8 L2759.6,520.6 L2761.1,525.6 L2762.8,529.2 L2764.2,524.9 L2765.7,519.1 L2767.1,513.4 L2768.6,510.5 L2770.0,509.0 L2771.4,503.3 L2772.9,497.5 L2774.6,495.3" fill="none" stroke="#000" stroke-width="2" stroke-linejoin="round"/>
<circle cx="2774.6" cy="495.3" r="2.7" fill="#000"/>
</g>
<line x1="56.4" y1="211.7" x2="400.5" y2="418" stroke="#000" stroke-width="1.3"/>
<line x1="587.1" y1="161" x2="1370" y2="631" stroke="#000" stroke-width="1.3"/>
<line x1="1578.3" y1="102.2" x2="2233.7" y2="681.6" stroke="#000" stroke-width="1.3"/>
<line x1="2375" y1="333.8" x2="2780.6" y2="592.5" stroke="#000" stroke-width="1.3"/>
<path d="M251.7,207.5 Q480.9,47.3 696.6,174.0" fill="none" stroke="#000" stroke-width="2.9" stroke-dasharray="2.6 6.4" stroke-linecap="round"/>
<path d="M676.5,180.4 L696.6,174.0" fill="none" stroke="#000" stroke-width="2.9" stroke-dasharray="2.6 6.4" stroke-linecap="round"/>
<path d="M692.3,156.4 L696.6,174.0" fill="none" stroke="#000" stroke-width="2.9" stroke-dasharray="2.6 6.4" stroke-linecap="round"/>
<path d="M40.0,463.3 Q279.1,577.3 488.2,431.0" fill="none" stroke="#000" stroke-width="2.9" stroke-dasharray="2.6 6.4" stroke-linecap="round"/>
<path d="M469.7,427.1 L488.2,431.0" fill="none" stroke="#000" stroke-width="2.9" stroke-dasharray="2.6 6.4" stroke-linecap="round"/>
<path d="M484.6,451.9 L488.2,431.0" fill="none" stroke="#000" stroke-width="2.9" stroke-dasharray="2.6 6.4" stroke-linecap="round"/>
<path d="M1385.2,170.3 Q1596.5,11.2 1832.2,137.0" fill="none" stroke="#000" stroke-width="2.9" stroke-dasharray="2.6 6.4" stroke-linecap="round"/>
<path d="M1811.3,143.7 L1832.2,137.0" fill="none" stroke="#000" stroke-width="2.9" stroke-dasharray="2.6 6.4" stroke-linecap="round"/>
<path d="M1826.5,119.3 L1832.2,137.0" fill="none" stroke="#000" stroke-width="2.9" stroke-dasharray="2.6 6.4" stroke-linecap="round"/>
<path d="M1058.2,579.8 Q1294.4,697.5 1507.7,546.5" fill="none" stroke="#000" stroke-width="2.9" stroke-dasharray="2.6 6.4" stroke-linecap="round"/>
<path d="M1489.2,543.9 L1507.7,546.5" fill="none" stroke="#000" stroke-width="2.9" stroke-dasharray="2.6 6.4" stroke-linecap="round"/>
<path d="M1504,568.7 L1507.7,546.5" fill="none" stroke="#000" stroke-width="2.9" stroke-dasharray="2.6 6.4" stroke-linecap="round"/>
<path d="M2145.2,396.5 Q2356.4,239.0 2590.3,363.2" fill="none" stroke="#000" stroke-width="2.9" stroke-dasharray="2.6 6.4" stroke-linecap="round"/>
<path d="M2569.4,369.9 L2590.3,363.2" fill="none" stroke="#000" stroke-width="2.9" stroke-dasharray="2.6 6.4" stroke-linecap="round"/>
<path d="M2585,345.5 L2590.3,363.2" fill="none" stroke="#000" stroke-width="2.9" stroke-dasharray="2.6 6.4" stroke-linecap="round"/>
<path d="M1905.7,677.1 Q2130.7,792.8 2353.6,644.3" fill="none" stroke="#000" stroke-width="2.9" stroke-dasharray="2.6 6.4" stroke-linecap="round"/>
<path d="M2334.6,641.3 L2353.6,644.3" fill="none" stroke="#000" stroke-width="2.9" stroke-dasharray="2.6 6.4" stroke-linecap="round"/>
<path d="M2349.8,665.7 L2353.6,644.3" fill="none" stroke="#000" stroke-width="2.9" stroke-dasharray="2.6 6.4" stroke-linecap="round"/>
<path d="M2510.0,557.1 Q2748.1,674.3 2956.0,524.7" fill="none" stroke="#000" stroke-width="2.9" stroke-dasharray="2.6 6.4" stroke-linecap="round"/>
<path d="M2937,521.3 L2956.0,524.7" fill="none" stroke="#000" stroke-width="2.9" stroke-dasharray="2.6 6.4" stroke-linecap="round"/>
<path d="M2951.3,545.7 L2956.0,524.7" fill="none" stroke="#000" stroke-width="2.9" stroke-dasharray="2.6 6.4" stroke-linecap="round"/>
<path d="M438,504.8 H610.2 Q618.2,504.8 618.2,512.8 V596.9 Q618.2,604.9 610.2,604.9 H438.6 Q430.6,604.9 430.6,596.9 V511.7 L315,352.4 Z" fill="#fff" stroke="#000" stroke-width="1.2" stroke-linejoin="round"/>
<text x="443.4" y="545.1" font-size="39" fill="#000" font-weight="normal" font-style="normal" text-anchor="start" textLength="162.8" lengthAdjust="spacingAndGlyphs" stroke="#000" stroke-width="0.5">1st signal</text>
<text x="443.4" y="585.5" font-size="39" fill="#000" font-weight="normal" font-style="normal" text-anchor="start" textLength="112.0" lengthAdjust="spacingAndGlyphs" stroke="#000" stroke-width="0.5">(1931)</text>
<path d="M1127.7,327.8 H1311.8 Q1319.8,327.8 1319.8,335.8 V420 L1325,537.2 L1311.3,428.6 H1127.7 Q1119.7,428.6 1119.7,420.6 V335.8 Q1119.7,327.8 1127.7,327.8 Z" fill="#fff" stroke="#000" stroke-width="1.2" stroke-linejoin="round"/>
<text x="1130.8" y="369.3" font-size="39" fill="#000" font-weight="normal" font-style="normal" text-anchor="start" textLength="176.8" lengthAdjust="spacingAndGlyphs" stroke="#000" stroke-width="0.5">2nd signal</text>
<text x="1130.8" y="407.5" font-size="39" fill="#000" font-weight="normal" font-style="normal" text-anchor="start" textLength="112.0" lengthAdjust="spacingAndGlyphs" stroke="#000" stroke-width="0.5">(1970)</text>
<path d="M2448.9,626.5 H2627.8 Q2635.8,626.5 2635.8,634.5 V718.9 Q2635.8,726.9 2627.8,726.9 H2449.6 Q2441.6,726.9 2441.6,718.9 V635.2 L2166.8,601.6 Z" fill="#fff" stroke="#000" stroke-width="1.2" stroke-linejoin="round"/>
<text x="2454.6" y="668.0" font-size="39" fill="#000" font-weight="normal" font-style="normal" text-anchor="start" textLength="168.7" lengthAdjust="spacingAndGlyphs" stroke="#000" stroke-width="0.5">3rd signal</text>
<text x="2454.6" y="707.6" font-size="39" fill="#000" font-weight="normal" font-style="normal" text-anchor="start" textLength="112.0" lengthAdjust="spacingAndGlyphs" stroke="#000" stroke-width="0.5">(2002)</text>
<path d="M2812.4,326.3 H2990.4 Q2998.4,326.3 2998.4,334.3 V419.1 Q2998.4,427.1 2990.4,427.1 H2812.8 L2786.5,482.1 L2804.4,419.1 V334.3 Q2804.4,326.3 2812.4,326.3 Z" fill="#fff" stroke="#000" stroke-width="1.2" stroke-linejoin="round"/>
<text x="2815.6" y="368.3" font-size="39" fill="#000" font-weight="normal" font-style="normal" text-anchor="start" textLength="170.9" lengthAdjust="spacingAndGlyphs" stroke="#000" stroke-width="0.5">4th signal</text>
<text x="2815.6" y="406.8" font-size="39" fill="#000" font-weight="normal" font-style="normal" text-anchor="start" textLength="165.0" lengthAdjust="spacingAndGlyphs" stroke="#000" stroke-width="0.5">(2025) ???</text>
<rect x="115" y="636" width="1390" height="100" fill="#fff"/>
<text x="120.5" y="729.8" font-size="106" fill="#000" font-weight="normal" font-style="normal" text-anchor="start" textLength="209.8" lengthAdjust="spacingAndGlyphs" stroke="#000" stroke-width="1.6">Gold</text>
<text x="371.4" y="729.8" font-size="106" fill="#000" font-weight="normal" font-style="normal" text-anchor="start" textLength="284.1" lengthAdjust="spacingAndGlyphs" stroke="#000" stroke-width="1.6">versus</text>
<text x="688.4" y="729.8" font-size="106" fill="#000" font-weight="normal" font-style="normal" text-anchor="start" textLength="173.8" lengthAdjust="spacingAndGlyphs" stroke="#000" stroke-width="1.6">The</text>
<text x="897.8" y="729.8" font-size="106" fill="#000" font-weight="normal" font-style="normal" text-anchor="start" textLength="251.1" lengthAdjust="spacingAndGlyphs" stroke="#000" stroke-width="1.6">Stock</text>
<text x="1179.0" y="729.8" font-size="106" fill="#000" font-weight="normal" font-style="normal" text-anchor="start" textLength="320.0" lengthAdjust="spacingAndGlyphs" stroke="#000" stroke-width="1.6">Market</text>
<rect x="1915" y="85" width="425" height="150" fill="#fff"/>
<text x="1925.5" y="194.8" font-size="115" fill="#f23645" font-weight="normal" font-style="italic" text-anchor="start" textLength="405.0" lengthAdjust="spacingAndGlyphs" stroke="#f23645" stroke-width="2.4">Capital</text>
<text x="2391.0" y="194.6" font-size="126" fill="#000" font-weight="bold" font-style="italic" text-anchor="start" textLength="375.0" lengthAdjust="spacingAndGlyphs" >Events</text>
<text x="2818.5" y="194.6" font-size="115" fill="#f23645" font-weight="normal" font-style="italic" text-anchor="start" textLength="448.0" lengthAdjust="spacingAndGlyphs" stroke="#f23645" stroke-width="2.4">Rotation</text>
<line x1="2696.5" y1="95" x2="2696.5" y2="215" stroke="#000" stroke-width="1" stroke-dasharray="1 2"/>
<text x="15.1" y="64.6" font-size="11.6" fill="#131722" font-weight="bold" font-style="normal" text-anchor="start" textLength="134.3" lengthAdjust="spacingAndGlyphs" >XAUUSD/SPX · 1M · ICE</text>
<text x="15.1" y="81.5" font-size="11.6" fill="#131722" font-weight="normal" font-style="normal" text-anchor="start" textLength="87.4" lengthAdjust="spacingAndGlyphs" >SMA (84, close)</text>
<text x="3297.0" y="55.9" font-size="12" fill="#131722" font-weight="normal" font-style="normal" text-anchor="start" stroke="#131722" stroke-width="0.3">9.000</text>
<text x="3297.0" y="85.4" font-size="12" fill="#131722" font-weight="normal" font-style="normal" text-anchor="start" stroke="#131722" stroke-width="0.3">7.500</text>
<text x="3297.0" y="123.9" font-size="12" fill="#131722" font-weight="normal" font-style="normal" text-anchor="start" stroke="#131722" stroke-width="0.3">6.000</text>
<text x="3297.0" y="154.0" font-size="12" fill="#131722" font-weight="normal" font-style="normal" text-anchor="start" stroke="#131722" stroke-width="0.3">5.000</text>
<text x="3297.0" y="191.9" font-size="12" fill="#131722" font-weight="normal" font-style="normal" text-anchor="start" stroke="#131722" stroke-width="0.3">4.000</text>
<text x="3297.0" y="229.0" font-size="12" fill="#131722" font-weight="normal" font-style="normal" text-anchor="start" stroke="#131722" stroke-width="0.3">3.200</text>
<text x="3297.0" y="264.0" font-size="12" fill="#131722" font-weight="normal" font-style="normal" text-anchor="start" stroke="#131722" stroke-width="0.3">2.600</text>
<text x="3297.0" y="308.1" font-size="12" fill="#131722" font-weight="normal" font-style="normal" text-anchor="start" stroke="#131722" stroke-width="0.3">2.000</text>
<text x="3297.0" y="344.7" font-size="12" fill="#131722" font-weight="normal" font-style="normal" text-anchor="start" stroke="#131722" stroke-width="0.3">1.600</text>
<text x="3297.0" y="379.9" font-size="12" fill="#131722" font-weight="normal" font-style="normal" text-anchor="start" stroke="#131722" stroke-width="0.3">1.300</text>
<text x="3297.0" y="415.6" font-size="12" fill="#131722" font-weight="normal" font-style="normal" text-anchor="start" stroke="#131722" stroke-width="0.3">1.050</text>
<text x="3297.0" y="451.2" font-size="12" fill="#131722" font-weight="normal" font-style="normal" text-anchor="start" stroke="#131722" stroke-width="0.3">0.850</text>
<text x="3297.0" y="484.1" font-size="12" fill="#131722" font-weight="normal" font-style="normal" text-anchor="start" stroke="#131722" stroke-width="0.3">0.700</text>
<text x="3297.0" y="524.0" font-size="12" fill="#131722" font-weight="normal" font-style="normal" text-anchor="start" stroke="#131722" stroke-width="0.3">0.550</text>
<text x="3297.0" y="557.8" font-size="12" fill="#131722" font-weight="normal" font-style="normal" text-anchor="start" stroke="#131722" stroke-width="0.3">0.450</text>
<text x="3297.0" y="591.2" font-size="12" fill="#131722" font-weight="normal" font-style="normal" text-anchor="start" stroke="#131722" stroke-width="0.3">0.370</text>
<text x="3297.0" y="632.0" font-size="12" fill="#131722" font-weight="normal" font-style="normal" text-anchor="start" stroke="#131722" stroke-width="0.3">0.290</text>
<text x="3297.0" y="662.6" font-size="12" fill="#131722" font-weight="normal" font-style="normal" text-anchor="start" stroke="#131722" stroke-width="0.3">0.240</text>
<text x="3297.0" y="694.1" font-size="12" fill="#131722" font-weight="normal" font-style="normal" text-anchor="start" stroke="#131722" stroke-width="0.3">0.200</text>
<text x="3297.0" y="725.6" font-size="12" fill="#131722" font-weight="normal" font-style="normal" text-anchor="start" stroke="#131722" stroke-width="0.3">0.165</text>
<text x="3297.0" y="756.8" font-size="12" fill="#131722" font-weight="normal" font-style="normal" text-anchor="start" stroke="#131722" stroke-width="0.3">0.137</text>
<text x="3297.0" y="777.0" font-size="12" fill="#131722" font-weight="normal" font-style="normal" text-anchor="start" stroke="#131722" stroke-width="0.3">110.00</text>
<text x="3297.0" y="812.4" font-size="12" fill="#131722" font-weight="normal" font-style="normal" text-anchor="start" stroke="#131722" stroke-width="0.3">100.00</text>
<text x="3297.0" y="847.8" font-size="12" fill="#131722" font-weight="normal" font-style="normal" text-anchor="start" stroke="#131722" stroke-width="0.3">90.00</text>
<text x="3297.0" y="883.2" font-size="12" fill="#131722" font-weight="normal" font-style="normal" text-anchor="start" stroke="#131722" stroke-width="0.3">80.00</text>
<text x="3297.0" y="918.6" font-size="12" fill="#131722" font-weight="normal" font-style="normal" text-anchor="start" stroke="#131722" stroke-width="0.3">70.00</text>
<text x="3297.0" y="954.0" font-size="12" fill="#131722" font-weight="normal" font-style="normal" text-anchor="start" stroke="#131722" stroke-width="0.3">60.00</text>
<text x="3297.0" y="989.4" font-size="12" fill="#131722" font-weight="normal" font-style="normal" text-anchor="start" stroke="#131722" stroke-width="0.3">50.00</text>
<text x="3297.0" y="1024.8" font-size="12" fill="#131722" font-weight="normal" font-style="normal" text-anchor="start" stroke="#131722" stroke-width="0.3">40.00</text>
<text x="3297.0" y="1060.2" font-size="12" fill="#131722" font-weight="normal" font-style="normal" text-anchor="start" stroke="#131722" stroke-width="0.3">30.00</text>
<text x="3297.0" y="1095.6" font-size="12" fill="#131722" font-weight="normal" font-style="normal" text-anchor="start" stroke="#131722" stroke-width="0.3">20.00</text>
<text x="3297.0" y="1131.0" font-size="12" fill="#131722" font-weight="normal" font-style="normal" text-anchor="start" stroke="#131722" stroke-width="0.3">10.00</text>
<text x="3297.0" y="1166.4" font-size="12" fill="#131722" font-weight="normal" font-style="normal" text-anchor="start" stroke="#131722" stroke-width="0.3">0.00</text>
<text x="36.9" y="1216.0" font-size="12" fill="#131722" font-weight="normal" font-style="normal" text-anchor="middle" stroke="#131722" stroke-width="0.35">1920</text>
<text x="108.2" y="1216.0" font-size="12" fill="#131722" font-weight="normal" font-style="normal" text-anchor="middle" stroke="#131722" stroke-width="0.35">1923</text>
<text x="160.0" y="1216.0" font-size="12" fill="#131722" font-weight="normal" font-style="normal" text-anchor="middle" stroke="#131722" stroke-width="0.35">1925</text>
<text x="211.8" y="1216.0" font-size="12" fill="#131722" font-weight="normal" font-style="normal" text-anchor="middle" stroke="#131722" stroke-width="0.35">1927</text>
<text x="263.6" y="1216.0" font-size="12" fill="#131722" font-weight="normal" font-style="normal" text-anchor="middle" stroke="#131722" stroke-width="0.35">1929</text>
<text x="315.4" y="1216.0" font-size="12" fill="#131722" font-weight="normal" font-style="normal" text-anchor="middle" stroke="#131722" stroke-width="0.35">1931</text>
<text x="367.2" y="1216.0" font-size="12" fill="#131722" font-weight="normal" font-style="normal" text-anchor="middle" stroke="#131722" stroke-width="0.35">1933</text>
<text x="419.1" y="1216.0" font-size="12" fill="#131722" font-weight="normal" font-style="normal" text-anchor="middle" stroke="#131722" stroke-width="0.35">1935</text>
<text x="470.9" y="1216.0" font-size="12" fill="#131722" font-weight="normal" font-style="normal" text-anchor="middle" stroke="#131722" stroke-width="0.35">1937</text>
<text x="522.7" y="1216.0" font-size="12" fill="#131722" font-weight="normal" font-style="normal" text-anchor="middle" stroke="#131722" stroke-width="0.35">1939</text>
<text x="574.5" y="1216.0" font-size="12" fill="#131722" font-weight="normal" font-style="normal" text-anchor="middle" stroke="#131722" stroke-width="0.35">1941</text>
<text x="626.3" y="1216.0" font-size="12" fill="#131722" font-weight="normal" font-style="normal" text-anchor="middle" stroke="#131722" stroke-width="0.35">1943</text>
<text x="678.1" y="1216.0" font-size="12" fill="#131722" font-weight="normal" font-style="normal" text-anchor="middle" stroke="#131722" stroke-width="0.35">1945</text>
<text x="729.9" y="1216.0" font-size="12" fill="#131722" font-weight="normal" font-style="normal" text-anchor="middle" stroke="#131722" stroke-width="0.35">1947</text>
<text x="781.7" y="1216.0" font-size="12" fill="#131722" font-weight="normal" font-style="normal" text-anchor="middle" stroke="#131722" stroke-width="0.35">1949</text>
<text x="833.6" y="1216.0" font-size="12" fill="#131722" font-weight="normal" font-style="normal" text-anchor="middle" stroke="#131722" stroke-width="0.35">1951</text>
<text x="885.4" y="1216.0" font-size="12" fill="#131722" font-weight="normal" font-style="normal" text-anchor="middle" stroke="#131722" stroke-width="0.35">1953</text>
<text x="937.2" y="1216.0" font-size="12" fill="#131722" font-weight="normal" font-style="normal" text-anchor="middle" stroke="#131722" stroke-width="0.35">1955</text>
<text x="989.0" y="1216.0" font-size="12" fill="#131722" font-weight="normal" font-style="normal" text-anchor="middle" stroke="#131722" stroke-width="0.35">1957</text>
<text x="1040.8" y="1216.0" font-size="12" fill="#131722" font-weight="normal" font-style="normal" text-anchor="middle" stroke="#131722" stroke-width="0.35">1959</text>
<text x="1092.6" y="1216.0" font-size="12" fill="#131722" font-weight="normal" font-style="normal" text-anchor="middle" stroke="#131722" stroke-width="0.35">1961</text>
<text x="1144.4" y="1216.0" font-size="12" fill="#131722" font-weight="normal" font-style="normal" text-anchor="middle" stroke="#131722" stroke-width="0.35">1963</text>
<text x="1196.2" y="1216.0" font-size="12" fill="#131722" font-weight="normal" font-style="normal" text-anchor="middle" stroke="#131722" stroke-width="0.35">1965</text>
<text x="1248.1" y="1216.0" font-size="12" fill="#131722" font-weight="normal" font-style="normal" text-anchor="middle" stroke="#131722" stroke-width="0.35">1967</text>
<text x="1299.9" y="1216.0" font-size="12" fill="#131722" font-weight="normal" font-style="normal" text-anchor="middle" stroke="#131722" stroke-width="0.35">1969</text>
<text x="1351.7" y="1216.0" font-size="12" fill="#131722" font-weight="normal" font-style="normal" text-anchor="middle" stroke="#131722" stroke-width="0.35">1971</text>
<text x="1403.5" y="1216.0" font-size="12" fill="#131722" font-weight="normal" font-style="normal" text-anchor="middle" stroke="#131722" stroke-width="0.35">1973</text>
<text x="1455.3" y="1216.0" font-size="12" fill="#131722" font-weight="normal" font-style="normal" text-anchor="middle" stroke="#131722" stroke-width="0.35">1975</text>
<text x="1507.1" y="1216.0" font-size="12" fill="#131722" font-weight="normal" font-style="normal" text-anchor="middle" stroke="#131722" stroke-width="0.35">1977</text>
<text x="1558.9" y="1216.0" font-size="12" fill="#131722" font-weight="normal" font-style="normal" text-anchor="middle" stroke="#131722" stroke-width="0.35">1979</text>
<text x="1610.7" y="1216.0" font-size="12" fill="#131722" font-weight="normal" font-style="normal" text-anchor="middle" stroke="#131722" stroke-width="0.35">1981</text>
<text x="1662.5" y="1216.0" font-size="12" fill="#131722" font-weight="normal" font-style="normal" text-anchor="middle" stroke="#131722" stroke-width="0.35">1983</text>
<text x="1714.4" y="1216.0" font-size="12" fill="#131722" font-weight="normal" font-style="normal" text-anchor="middle" stroke="#131722" stroke-width="0.35">1985</text>
<text x="1766.2" y="1216.0" font-size="12" fill="#131722" font-weight="normal" font-style="normal" text-anchor="middle" stroke="#131722" stroke-width="0.35">1987</text>
<text x="1818.0" y="1216.0" font-size="12" fill="#131722" font-weight="normal" font-style="normal" text-anchor="middle" stroke="#131722" stroke-width="0.35">1989</text>
<text x="1869.8" y="1216.0" font-size="12" fill="#131722" font-weight="normal" font-style="normal" text-anchor="middle" stroke="#131722" stroke-width="0.35">1991</text>
<text x="1921.6" y="1216.0" font-size="12" fill="#131722" font-weight="normal" font-style="normal" text-anchor="middle" stroke="#131722" stroke-width="0.35">1993</text>
<text x="1973.4" y="1216.0" font-size="12" fill="#131722" font-weight="normal" font-style="normal" text-anchor="middle" stroke="#131722" stroke-width="0.35">1995</text>
<text x="2025.2" y="1216.0" font-size="12" fill="#131722" font-weight="normal" font-style="normal" text-anchor="middle" stroke="#131722" stroke-width="0.35">1997</text>
<text x="2077.0" y="1216.0" font-size="12" fill="#131722" font-weight="normal" font-style="normal" text-anchor="middle" stroke="#131722" stroke-width="0.35">1999</text>
<text x="2128.9" y="1216.0" font-size="12" fill="#131722" font-weight="normal" font-style="normal" text-anchor="middle" stroke="#131722" stroke-width="0.35">2001</text>
<text x="2180.7" y="1216.0" font-size="12" fill="#131722" font-weight="normal" font-style="normal" text-anchor="middle" stroke="#131722" stroke-width="0.35">2003</text>
<text x="2232.5" y="1216.0" font-size="12" fill="#131722" font-weight="normal" font-style="normal" text-anchor="middle" stroke="#131722" stroke-width="0.35">2005</text>
<text x="2284.3" y="1216.0" font-size="12" fill="#131722" font-weight="normal" font-style="normal" text-anchor="middle" stroke="#131722" stroke-width="0.35">2007</text>
<text x="2336.1" y="1216.0" font-size="12" fill="#131722" font-weight="normal" font-style="normal" text-anchor="middle" stroke="#131722" stroke-width="0.35">2009</text>
<text x="2387.9" y="1216.0" font-size="12" fill="#131722" font-weight="normal" font-style="normal" text-anchor="middle" stroke="#131722" stroke-width="0.35">2011</text>
<text x="2439.7" y="1216.0" font-size="12" fill="#131722" font-weight="normal" font-style="normal" text-anchor="middle" stroke="#131722" stroke-width="0.35">2013</text>
<text x="2491.5" y="1216.0" font-size="12" fill="#131722" font-weight="normal" font-style="normal" text-anchor="middle" stroke="#131722" stroke-width="0.35">2015</text>
<text x="2543.4" y="1216.0" font-size="12" fill="#131722" font-weight="normal" font-style="normal" text-anchor="middle" stroke="#131722" stroke-width="0.35">2017</text>
<text x="2595.2" y="1216.0" font-size="12" fill="#131722" font-weight="normal" font-style="normal" text-anchor="middle" stroke="#131722" stroke-width="0.35">2019</text>
<text x="2647.0" y="1216.0" font-size="12" fill="#131722" font-weight="normal" font-style="normal" text-anchor="middle" stroke="#131722" stroke-width="0.35">2021</text>
<text x="2698.8" y="1216.0" font-size="12" fill="#131722" font-weight="normal" font-style="normal" text-anchor="middle" stroke="#131722" stroke-width="0.35">2023</text>
<text x="2750.6" y="1216.0" font-size="12" fill="#131722" font-weight="normal" font-style="normal" text-anchor="middle" stroke="#131722" stroke-width="0.35">2025</text>
<text x="2802.4" y="1216.0" font-size="12" fill="#131722" font-weight="normal" font-style="normal" text-anchor="middle" stroke="#131722" stroke-width="0.35">2027</text>
<text x="2854.2" y="1216.0" font-size="12" fill="#131722" font-weight="normal" font-style="normal" text-anchor="middle" stroke="#131722" stroke-width="0.35">2029</text>
<text x="2906.0" y="1216.0" font-size="12" fill="#131722" font-weight="normal" font-style="normal" text-anchor="middle" stroke="#131722" stroke-width="0.35">2031</text>
<text x="2957.8" y="1216.0" font-size="12" fill="#131722" font-weight="normal" font-style="normal" text-anchor="middle" stroke="#131722" stroke-width="0.35">2033</text>
<text x="3009.7" y="1216.0" font-size="12" fill="#131722" font-weight="normal" font-style="normal" text-anchor="middle" stroke="#131722" stroke-width="0.35">2035</text>
<text x="3061.5" y="1216.0" font-size="12" fill="#131722" font-weight="normal" font-style="normal" text-anchor="middle" stroke="#131722" stroke-width="0.35">2037</text>
<text x="3113.3" y="1216.0" font-size="12" fill="#131722" font-weight="normal" font-style="normal" text-anchor="middle" stroke="#131722" stroke-width="0.35">2039</text>
<text x="3165.1" y="1216.0" font-size="12" fill="#131722" font-weight="normal" font-style="normal" text-anchor="middle" stroke="#131722" stroke-width="0.35">2041</text>
<text x="3216.9" y="1216.0" font-size="12" fill="#131722" font-weight="normal" font-style="normal" text-anchor="middle" stroke="#131722" stroke-width="0.35">2043</text>
<text x="3268.7" y="1216.0" font-size="12" fill="#131722" font-weight="normal" font-style="normal" text-anchor="middle" stroke="#131722" stroke-width="0.35">2045</text>
<path d="M269.7,1198 H365.3 V1219.6 Q365.3,1221.7 363.3,1221.7 H271.7 Q269.7,1221.7 269.7,1219.6 Z" fill="#000"/>
<text x="317.5" y="1216.3" font-size="12" fill="#fff" font-weight="normal" font-style="normal" text-anchor="middle" textLength="77.6" lengthAdjust="spacingAndGlyphs" stroke="#fff" stroke-width="0.35">Mon 02 Feb '31</text>
<path d="M1289.1,1198 H1379.9 V1219.6 Q1379.9,1221.7 1377.9,1221.7 H1291.1 Q1289.1,1221.7 1289.1,1219.6 Z" fill="#000"/>
<text x="1334.5" y="1216.3" font-size="12" fill="#fff" font-weight="normal" font-style="normal" text-anchor="middle" textLength="72.8" lengthAdjust="spacingAndGlyphs" stroke="#fff" stroke-width="0.35">Fri 01 May '70</text>
<path d="M2118.1,1198 H2213.7 V1219.6 Q2213.7,1221.7 2211.7,1221.7 H2120.1 Q2118.1,1221.7 2118.1,1219.6 Z" fill="#000"/>
<text x="2165.9" y="1216.3" font-size="12" fill="#fff" font-weight="normal" font-style="normal" text-anchor="middle" textLength="77.6" lengthAdjust="spacingAndGlyphs" stroke="#fff" stroke-width="0.35">Mon 03 Jun '02</text>
<path d="M2649.2,1198 H2744.8 V1219.6 Q2744.8,1221.7 2742.8,1221.7 H2651.2 Q2649.2,1221.7 2649.2,1219.6 Z" fill="#000"/>
<text x="2697.0" y="1216.3" font-size="12" fill="#fff" font-weight="normal" font-style="normal" text-anchor="middle" textLength="77.6" lengthAdjust="spacingAndGlyphs" stroke="#fff" stroke-width="0.35">Thu 01 Dec '22</text>
<rect x="6.5" y="43.5" width="3336.0" height="1183.0" fill="none" stroke="#000" stroke-width="1.2"/>
<g fill="#131722"><path d="M6.1,1238.3 H14.9 V1249.7 H10.3 V1242.6 H6.1 Z"/><circle cx="18.9" cy="1240.3" r="2.1"/><path d="M22.9,1238.3 H28.3 L24.2,1249.7 H19.1 Z"/></g>
<text x="33.3" y="1249.7" font-size="16.6" fill="#131722" font-weight="bold" font-style="normal" text-anchor="start" textLength="91.6" lengthAdjust="spacingAndGlyphs" >TradingView</text>
</svg></body></html>
